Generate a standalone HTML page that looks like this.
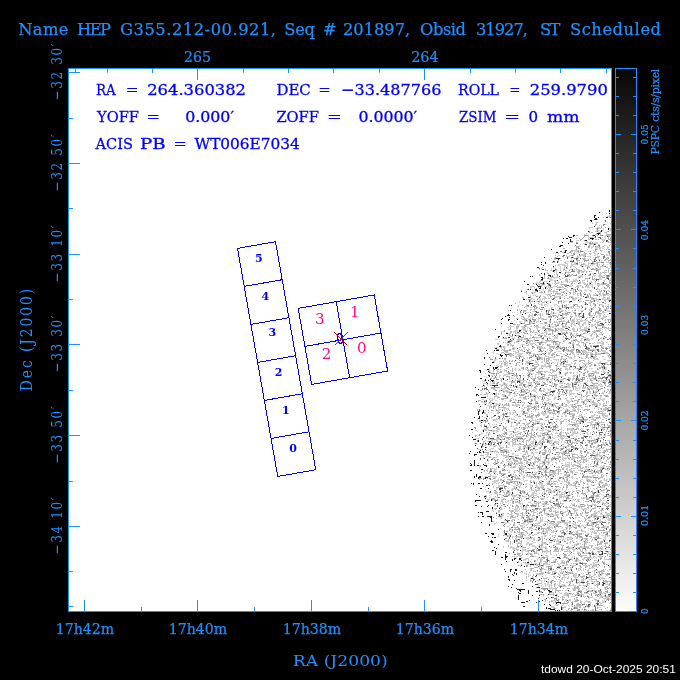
<!DOCTYPE html><html><head><meta charset="utf-8"><title>ObsVis</title><style>html,body{margin:0;padding:0;background:#000;width:680px;height:680px;overflow:hidden}svg{display:block;will-change:transform}text{font-family:'DejaVu Serif', 'Liberation Serif', serif}</style></head><body>
<svg width="680" height="680" viewBox="0 0 680 680" shape-rendering="crispEdges">
<defs>
<linearGradient id="cb" x1="0" y1="0" x2="0" y2="1"><stop offset="0" stop-color="#070707"/><stop offset="1" stop-color="#fdfdfd"/></linearGradient>
<clipPath id="pc"><rect x="69" y="69" width="542" height="542"/></clipPath>
</defs>
<rect width="680" height="680" fill="#000"/>
<rect x="68.5" y="68.5" width="543" height="543" fill="#fff" stroke="#1e90ff" stroke-width="1"/>
<g stroke-width="1" fill="none" shape-rendering="crispEdges"><path d="M602 214h1M609 215h2M607 216h3M603 217h1M609 217h1M607 222h1M592 223h1M610 223h1M605 224h2M610 224h1M601 225h1M601 226h1M589 227h4M598 227h2M589 228h1M596 228h1M598 228h2M603 228h1M609 228h2M603 229h1M610 229h1M596 230h4M602 230h1M609 230h2M595 231h2M598 231h1M604 232h1M606 232h1M586 233h1M596 233h1M606 233h1M584 234h1M586 234h1M595 234h3M588 235h1M595 235h1M603 235h1M605 235h3M609 235h2M588 236h1M593 236h1M604 236h2M610 236h1M588 237h2M594 237h1M602 237h1M605 237h1M610 237h1M588 238h1M595 238h1M601 238h1M605 238h1M588 239h2M593 239h1M601 239h4M576 240h3M602 240h2M586 241h2M590 241h2M603 241h1M570 242h3M577 242h1M586 242h4M594 242h4M600 242h1M602 242h2M609 242h2M583 243h1M585 243h1M593 243h5M580 244h1M584 244h1M589 244h3M598 244h2M610 244h1M579 245h1M590 245h1M604 245h1M579 246h2M584 246h1M596 246h3M602 246h2M607 246h1M591 247h2M595 247h6M602 247h1M607 247h2M591 248h1M595 248h3M600 248h1M602 248h2M607 248h1M581 249h1M587 249h1M597 249h1M599 249h2M604 249h1M564 250h1M573 250h6M585 250h1M593 250h1M601 250h2M610 250h1M571 251h1M574 251h3M588 251h2M594 251h3M601 251h1M604 251h1M562 252h2M571 252h1M574 252h1M576 252h1M578 252h3M594 252h1M555 253h1M558 253h1M577 253h2M586 253h1M591 253h1M594 253h2M597 253h1M600 253h1M581 254h4M595 254h1M597 254h1M606 254h2M558 255h2M569 255h3M573 255h1M577 255h1M580 255h5M594 255h2M606 255h2M609 255h1M566 256h4M572 256h1M578 256h1M580 256h1M583 256h2M587 256h4M554 257h1M563 257h1M565 257h1M576 257h3M584 257h1M590 257h1M593 257h1M597 257h2M605 257h1M571 258h1M578 258h1M582 258h1M585 258h1M598 258h1M607 258h1M549 259h1M555 259h1M564 259h1M585 259h1M588 259h1M593 259h1M598 259h2M607 259h1M558 260h1M560 260h2M570 260h1M591 260h1M601 260h1M558 261h1M565 261h1M567 261h2M586 261h1M601 261h1M608 261h1M553 262h2M564 262h1M571 262h1M574 262h2M581 262h1M588 262h1M596 262h1M600 262h1M606 262h4M565 263h3M571 263h1M574 263h2M584 263h1M588 263h3M595 263h2M603 263h1M609 263h1M558 264h7M567 264h1M571 264h6M584 264h2M588 264h1M591 264h4M607 264h1M558 265h2M562 265h6M571 265h2M585 265h4M592 265h1M596 265h1M603 265h1M610 265h1M560 266h1M564 266h2M567 266h1M571 266h1M573 266h2M583 266h1M585 266h1M587 266h3M597 266h2M600 266h4M610 266h1M560 267h1M567 267h1M575 267h1M588 267h2M595 267h1M600 267h1M606 267h2M610 267h1M541 268h1M551 268h1M560 268h1M567 268h1M572 268h1M576 268h1M583 268h1M590 268h1M595 268h1M597 268h1M599 268h2M608 268h2M551 269h1M560 269h1M571 269h1M576 269h1M578 269h1M583 269h2M600 269h1M608 269h1M545 270h3M550 270h2M555 270h3M560 270h1M565 270h2M573 270h2M576 270h1M584 270h1M604 270h2M610 270h1M552 271h1M554 271h1M556 271h1M561 271h1M566 271h1M577 271h1M581 271h1M584 271h1M591 271h1M596 271h1M604 271h1M547 272h1M554 272h1M556 272h1M566 272h4M577 272h1M579 272h1M581 272h3M604 272h1M608 272h1M547 273h2M556 273h1M560 273h1M562 273h1M568 273h1M579 273h1M592 273h2M599 273h3M604 273h1M609 273h1M548 274h1M554 274h1M556 274h1M567 274h2M571 274h2M593 274h1M599 274h2M605 274h1M610 274h1M540 275h1M570 275h2M580 275h3M593 275h3M598 275h4M603 275h2M610 275h1M549 276h1M568 276h3M578 276h5M585 276h1M594 276h1M598 276h5M551 277h8M564 277h1M578 277h1M580 277h1M582 277h1M589 277h2M599 277h2M608 277h1M543 278h2M549 278h3M554 278h1M562 278h1M576 278h1M578 278h1M587 278h2M596 278h1M599 278h2M610 278h1M549 279h4M565 279h3M573 279h1M575 279h2M585 279h1M587 279h1M594 279h1M599 279h3M605 279h1M610 279h1M540 280h1M550 280h3M554 280h3M565 280h2M573 280h4M582 280h3M587 280h1M594 280h1M598 280h1M603 280h2M539 281h2M544 281h3M554 281h1M565 281h2M570 281h4M575 281h1M577 281h1M580 281h1M582 281h1M590 281h2M598 281h1M604 281h1M609 281h1M536 282h2M539 282h1M546 282h1M557 282h3M561 282h3M569 282h1M572 282h1M576 282h1M582 282h3M589 282h3M595 282h1M602 282h1M535 283h4M552 283h1M555 283h4M561 283h1M580 283h1M583 283h3M595 283h1M599 283h1M601 283h2M538 284h2M541 284h1M555 284h1M560 284h2M584 284h3M590 284h3M595 284h1M597 284h5M604 284h4M539 285h1M541 285h2M547 285h2M557 285h1M561 285h1M569 285h2M572 285h1M577 285h4M587 285h2M590 285h1M592 285h1M597 285h3M609 285h1M530 286h4M541 286h1M544 286h1M546 286h1M548 286h1M553 286h4M559 286h2M562 286h1M569 286h3M576 286h1M585 286h4M591 286h2M530 287h2M546 287h1M548 287h3M562 287h2M567 287h1M575 287h1M577 287h1M583 287h1M585 287h1M587 287h3M592 287h2M607 287h1M530 288h1M534 288h1M543 288h1M549 288h2M573 288h1M601 288h1M604 288h1M543 289h1M548 289h2M561 289h3M571 289h4M597 289h3M543 290h1M550 290h1M553 290h2M565 290h1M571 290h1M573 290h1M584 290h3M589 290h3M599 290h1M607 290h2M535 291h2M548 291h5M554 291h2M561 291h1M567 291h2M573 291h1M590 291h2M598 291h4M608 291h1M524 292h3M533 292h3M539 292h2M548 292h1M556 292h2M561 292h2M565 292h1M573 292h3M598 292h1M600 292h1M603 292h1M610 292h1M526 293h1M534 293h1M543 293h1M550 293h1M560 293h1M564 293h1M573 293h1M575 293h1M577 293h3M583 293h1M585 293h1M589 293h1M600 293h1M602 293h2M534 294h1M545 294h3M550 294h1M557 294h4M569 294h1M577 294h1M589 294h2M593 294h1M596 294h5M602 294h1M607 294h4M530 295h1M540 295h1M547 295h1M550 295h1M561 295h1M565 295h1M577 295h2M581 295h1M588 295h1M593 295h1M600 295h2M605 295h1M607 295h2M610 295h1M530 296h1M543 296h2M548 296h1M554 296h4M559 296h1M564 296h1M569 296h4M581 296h1M603 296h1M609 296h1M544 297h1M550 297h1M554 297h3M562 297h1M570 297h1M573 297h1M575 297h2M578 297h1M588 297h1M591 297h2M603 297h1M605 297h1M607 297h3M531 298h2M537 298h3M542 298h5M549 298h1M551 298h1M574 298h2M594 298h3M599 298h1M602 298h2M608 298h2M531 299h1M533 299h2M539 299h2M542 299h1M544 299h1M572 299h4M578 299h3M591 299h4M596 299h3M602 299h9M532 300h1M540 300h2M550 300h1M556 300h1M563 300h1M573 300h2M588 300h2M593 300h1M595 300h2M598 300h1M608 300h1M519 301h1M536 301h2M544 301h4M550 301h1M563 301h4M579 301h3M590 301h1M593 301h1M597 301h2M605 301h1M519 302h1M528 302h1M539 302h1M544 302h1M561 302h1M570 302h1M579 302h1M584 302h1M589 302h2M599 302h1M534 303h1M541 303h1M547 303h1M561 303h1M589 303h2M604 303h1M526 304h1M539 304h4M544 304h3M554 304h3M568 304h1M577 304h1M584 304h1M590 304h1M593 304h2M600 304h3M608 304h1M518 305h1M526 305h1M541 305h2M544 305h1M554 305h1M557 305h1M561 305h1M565 305h2M590 305h1M594 305h1M602 305h2M608 305h1M610 305h1M517 306h2M525 306h3M545 306h1M554 306h1M558 306h2M571 306h2M577 306h1M579 306h1M594 306h2M605 306h1M526 307h1M530 307h2M539 307h1M551 307h2M559 307h1M563 307h3M569 307h2M579 307h1M585 307h1M595 307h1M598 307h2M511 308h1M526 308h1M534 308h2M539 308h1M544 308h1M555 308h1M561 308h1M565 308h1M571 308h2M574 308h1M577 308h1M581 308h1M586 308h1M590 308h1M607 308h2M519 309h1M527 309h1M533 309h1M535 309h1M544 309h1M549 309h1M558 309h4M575 309h1M584 309h1M592 309h2M604 309h1M508 310h1M534 310h1M547 310h1M557 310h3M561 310h3M565 310h1M568 310h1M572 310h1M574 310h1M578 310h1M582 310h2M589 310h3M598 310h1M604 310h1M606 310h3M508 311h1M524 311h2M532 311h3M559 311h1M565 311h2M572 311h1M602 311h1M607 311h4M512 312h1M514 312h1M521 312h1M526 312h3M551 312h1M559 312h1M565 312h1M570 312h1M581 312h1M599 312h1M602 312h4M520 313h1M524 313h1M532 313h1M540 313h1M550 313h3M554 313h2M563 313h2M581 313h1M590 313h1M601 313h1M517 314h1M529 314h1M532 314h1M538 314h2M542 314h1M550 314h1M558 314h2M564 314h4M571 314h1M590 314h1M599 314h2M604 314h1M607 314h1M528 315h5M537 315h1M542 315h1M550 315h1M565 315h1M578 315h2M590 315h1M598 315h3M603 315h1M514 316h1M521 316h2M528 316h1M532 316h1M540 316h1M572 316h1M578 316h2M584 316h1M590 316h2M599 316h2M603 316h3M522 317h1M524 317h1M528 317h1M530 317h1M532 317h2M538 317h1M548 317h3M555 317h1M561 317h1M566 317h1M575 317h1M579 317h1M584 317h1M587 317h1M589 317h2M592 317h1M594 317h1M596 317h1M599 317h1M602 317h4M516 318h2M523 318h5M530 318h1M536 318h1M538 318h6M550 318h1M560 318h2M574 318h1M581 318h1M600 318h1M603 318h1M610 318h1M526 319h1M530 319h1M538 319h1M541 319h2M558 319h4M572 319h3M576 319h3M581 319h1M599 319h1M607 319h1M514 320h1M525 320h1M527 320h1M533 320h1M538 320h1M542 320h1M549 320h1M561 320h1M563 320h2M570 320h2M574 320h1M577 320h1M580 320h8M592 320h1M597 320h1M604 320h2M511 321h1M519 321h3M524 321h4M536 321h3M549 321h1M554 321h1M556 321h1M558 321h1M563 321h2M567 321h1M571 321h4M576 321h7M585 321h1M592 321h1M595 321h1M516 322h1M520 322h1M524 322h1M530 322h3M536 322h2M549 322h1M554 322h4M572 322h3M577 322h2M584 322h2M588 322h1M596 322h1M606 322h1M608 322h1M531 323h2M540 323h3M544 323h1M549 323h1M552 323h1M557 323h3M565 323h1M574 323h1M583 323h3M588 323h1M595 323h1M604 323h1M518 324h2M525 324h2M538 324h1M548 324h1M552 324h1M554 324h1M557 324h1M565 324h1M573 324h2M579 324h1M583 324h1M585 324h1M588 324h1M591 324h2M594 324h2M597 324h1M517 325h3M526 325h1M547 325h1M563 325h1M570 325h2M574 325h2M579 325h1M583 325h1M591 325h3M597 325h1M501 326h1M509 326h5M521 326h4M526 326h1M530 326h2M536 326h3M543 326h2M547 326h2M550 326h4M564 326h3M568 326h1M579 326h3M586 326h1M591 326h2M597 326h1M603 326h2M507 327h2M517 327h2M522 327h2M527 327h2M534 327h1M536 327h5M542 327h1M550 327h1M552 327h2M562 327h3M566 327h1M573 327h1M580 327h1M584 327h3M588 327h1M604 327h1M606 327h1M522 328h4M527 328h1M536 328h2M543 328h1M545 328h1M550 328h1M554 328h1M557 328h6M572 328h3M577 328h1M579 328h2M584 328h6M598 328h4M604 328h1M606 328h5M521 329h5M537 329h1M558 329h2M561 329h3M569 329h1M573 329h2M580 329h4M585 329h2M599 329h2M602 329h1M608 329h1M516 330h2M521 330h1M523 330h5M529 330h1M537 330h1M545 330h2M560 330h7M569 330h2M573 330h2M581 330h3M587 330h3M594 330h1M599 330h1M605 330h1M610 330h1M501 331h1M503 331h1M513 331h3M517 331h1M531 331h1M545 331h2M558 331h1M561 331h1M566 331h1M573 331h4M579 331h1M582 331h1M592 331h2M595 331h1M602 331h1M501 332h1M506 332h1M510 332h1M513 332h1M515 332h1M532 332h4M542 332h1M544 332h3M557 332h1M561 332h4M567 332h1M569 332h3M585 332h1M595 332h1M510 333h1M515 333h5M525 333h2M541 333h3M547 333h1M570 333h1M574 333h1M576 333h2M585 333h1M589 333h1M595 333h2M601 333h1M603 333h1M501 334h1M530 334h1M544 334h1M552 334h2M562 334h1M573 334h1M576 334h2M581 334h2M592 334h1M599 334h3M507 335h1M510 335h1M514 335h1M516 335h1M530 335h2M544 335h2M556 335h2M573 335h1M575 335h2M581 335h1M596 335h1M602 335h1M609 335h1M510 336h3M516 336h1M525 336h1M544 336h3M549 336h1M552 336h2M555 336h1M557 336h1M573 336h2M576 336h1M581 336h1M591 336h1M502 337h1M506 337h1M512 337h1M514 337h1M530 337h1M534 337h8M549 337h1M554 337h4M565 337h2M573 337h1M583 337h3M593 337h1M601 337h1M603 337h1M503 338h1M512 338h3M518 338h2M521 338h2M530 338h1M534 338h1M536 338h1M541 338h1M554 338h4M568 338h1M570 338h1M581 338h2M585 338h2M588 338h1M591 338h2M601 338h1M604 338h2M495 339h3M512 339h1M519 339h2M522 339h1M524 339h3M528 339h1M534 339h1M542 339h2M551 339h1M553 339h1M573 339h1M581 339h1M586 339h4M592 339h1M603 339h2M505 340h1M509 340h2M512 340h1M517 340h3M526 340h1M529 340h4M551 340h2M554 340h1M563 340h3M571 340h1M580 340h2M585 340h3M589 340h1M601 340h1M499 341h1M507 341h1M519 341h1M530 341h1M532 341h1M546 341h3M551 341h2M558 341h1M564 341h1M571 341h2M577 341h3M581 341h1M601 341h2M505 342h1M514 342h1M525 342h4M535 342h1M543 342h4M551 342h2M554 342h1M556 342h1M578 342h2M594 342h1M597 342h4M602 342h1M606 342h2M506 343h1M509 343h2M514 343h1M518 343h1M527 343h1M529 343h4M534 343h1M541 343h1M545 343h1M555 343h3M562 343h1M568 343h2M572 343h2M578 343h1M583 343h3M592 343h2M597 343h1M599 343h4M497 344h2M510 344h2M521 344h4M530 344h3M542 344h2M548 344h3M556 344h4M578 344h1M583 344h1M602 344h2M507 345h2M510 345h2M520 345h1M526 345h1M528 345h1M531 345h1M542 345h1M556 345h4M577 345h2M583 345h1M590 345h2M593 345h3M602 345h1M501 346h4M537 346h5M550 346h1M560 346h1M569 346h1M579 346h2M603 346h1M608 346h3M494 347h1M496 347h2M504 347h2M513 347h2M523 347h3M538 347h2M541 347h2M549 347h6M557 347h1M560 347h2M568 347h1M572 347h1M580 347h1M596 347h1M600 347h1M603 347h1M605 347h1M610 347h1M501 348h1M514 348h1M523 348h2M528 348h1M538 348h2M541 348h5M549 348h2M557 348h3M561 348h1M565 348h1M573 348h2M593 348h1M595 348h1M502 349h2M512 349h3M519 349h1M524 349h1M528 349h2M547 349h1M550 349h1M557 349h1M560 349h2M567 349h2M571 349h1M574 349h1M585 349h2M589 349h8M610 349h1M501 350h1M503 350h1M505 350h1M517 350h2M520 350h3M528 350h1M533 350h1M541 350h1M543 350h1M547 350h1M550 350h2M564 350h2M567 350h1M569 350h1M577 350h1M582 350h4M589 350h1M594 350h2M602 350h4M493 351h1M505 351h1M514 351h2M522 351h2M527 351h2M531 351h1M540 351h1M550 351h1M556 351h1M558 351h3M567 351h3M580 351h1M584 351h3M595 351h1M599 351h1M602 351h4M492 352h2M501 352h1M505 352h1M515 352h3M546 352h1M548 352h2M565 352h1M573 352h1M582 352h10M603 352h5M493 353h1M496 353h2M501 353h1M515 353h2M518 353h5M526 353h1M533 353h2M548 353h2M553 353h2M557 353h1M560 353h2M566 353h2M573 353h1M585 353h3M590 353h2M595 353h6M605 353h2M498 354h1M510 354h1M517 354h5M529 354h1M533 354h4M538 354h1M543 354h1M548 354h2M551 354h1M553 354h1M563 354h2M573 354h2M581 354h2M590 354h1M593 354h2M597 354h4M505 355h1M510 355h3M518 355h1M529 355h1M534 355h1M559 355h1M574 355h1M590 355h1M592 355h1M607 355h1M610 355h1M493 356h1M511 356h1M515 356h2M518 356h1M521 356h3M530 356h1M533 356h1M539 356h1M546 356h3M566 356h3M574 356h2M578 356h1M585 356h1M587 356h1M594 356h3M602 356h2M513 357h1M515 357h1M521 357h1M523 357h1M527 357h1M536 357h1M538 357h1M541 357h2M544 357h1M548 357h7M568 357h4M574 357h1M581 357h1M587 357h1M591 357h2M595 357h1M609 357h1M490 358h1M523 358h1M527 358h1M536 358h1M538 358h1M541 358h2M549 358h1M561 358h2M569 358h3M581 358h2M591 358h1M594 358h4M609 358h1M494 359h3M504 359h2M518 359h1M523 359h1M531 359h1M541 359h1M549 359h1M553 359h6M594 359h5M603 359h3M494 360h2M503 360h1M505 360h1M523 360h1M528 360h1M531 360h1M535 360h1M537 360h1M550 360h2M558 360h1M565 360h1M567 360h1M579 360h1M607 360h2M492 361h3M499 361h2M505 361h2M525 361h3M535 361h2M538 361h1M542 361h1M547 361h2M558 361h1M566 361h2M573 361h2M588 361h2M600 361h1M608 361h1M494 362h1M520 362h1M526 362h1M535 362h3M541 362h2M545 362h3M551 362h3M557 362h1M565 362h3M571 362h1M575 362h1M582 362h1M590 362h1M592 362h1M599 362h2M605 362h3M492 363h1M499 363h1M501 363h2M506 363h2M525 363h1M527 363h1M537 363h1M545 363h2M554 363h1M571 363h1M584 363h1M586 363h3M597 363h4M605 363h2M507 364h1M510 364h1M525 364h1M534 364h4M544 364h2M548 364h2M560 364h1M562 364h1M564 364h7M579 364h1M584 364h1M586 364h1M588 364h1M598 364h1M605 364h2M608 364h2M496 365h2M500 365h2M504 365h4M527 365h1M534 365h1M538 365h1M541 365h5M548 365h2M551 365h1M560 365h1M563 365h1M566 365h1M568 365h3M579 365h1M583 365h1M589 365h3M596 365h1M601 365h1M497 366h1M500 366h3M506 366h1M532 366h6M541 366h6M556 366h4M565 366h3M579 366h1M582 366h6M589 366h2M601 366h1M500 367h2M521 367h2M534 367h1M536 367h1M541 367h1M546 367h1M550 367h1M556 367h1M565 367h1M569 367h3M579 367h1M582 367h3M601 367h1M603 367h1M605 367h2M489 368h1M497 368h1M518 368h1M521 368h2M525 368h1M530 368h1M539 368h3M556 368h2M565 368h3M574 368h3M581 368h2M589 368h1M591 368h2M602 368h2M605 368h2M489 369h1M493 369h1M497 369h1M500 369h1M504 369h1M508 369h1M514 369h2M525 369h2M528 369h1M530 369h1M532 369h1M539 369h1M557 369h1M565 369h6M577 369h1M586 369h1M602 369h5M486 370h1M488 370h2M496 370h2M504 370h1M515 370h1M518 370h3M529 370h2M535 370h1M538 370h1M552 370h1M561 370h1M567 370h1M587 370h1M603 370h1M609 370h1M489 371h2M497 371h2M504 371h1M530 371h3M544 371h4M552 371h4M580 371h1M592 371h3M596 371h1M601 371h1M603 371h2M490 372h1M497 372h1M507 372h1M528 372h1M530 372h1M544 372h1M548 372h2M552 372h2M569 372h3M573 372h1M577 372h1M584 372h1M594 372h1M596 372h2M603 372h3M610 372h1M490 373h1M497 373h1M522 373h1M527 373h1M530 373h2M533 373h1M538 373h3M542 373h1M551 373h1M567 373h1M570 373h2M573 373h1M590 373h1M594 373h1M596 373h3M601 373h1M488 374h1M493 374h1M504 374h6M513 374h2M532 374h1M535 374h2M538 374h1M549 374h1M555 374h2M559 374h1M564 374h1M583 374h2M591 374h1M491 375h2M499 375h2M503 375h3M511 375h1M513 375h2M529 375h1M535 375h1M541 375h1M548 375h3M574 375h2M591 375h2M595 375h1M601 375h1M484 376h1M499 376h1M503 376h1M514 376h1M517 376h1M531 376h2M535 376h1M538 376h2M556 376h1M559 376h4M573 376h2M590 376h3M603 376h1M491 377h1M494 377h1M496 377h1M499 377h1M511 377h2M528 377h1M530 377h1M535 377h1M538 377h1M540 377h1M552 377h1M554 377h4M573 377h1M576 377h1M581 377h1M592 377h2M596 377h2M600 377h1M496 378h1M500 378h2M511 378h2M514 378h1M519 378h2M528 378h1M532 378h2M540 378h2M544 378h5M555 378h1M565 378h1M568 378h3M572 378h3M579 378h2M587 378h1M589 378h5M596 378h1M607 378h1M518 379h3M532 379h1M538 379h1M542 379h3M546 379h1M548 379h1M551 379h2M560 379h4M565 379h2M570 379h1M572 379h2M575 379h1M579 379h1M591 379h1M593 379h1M601 379h1M482 380h1M505 380h2M518 380h1M520 380h6M546 380h3M551 380h1M554 380h1M559 380h4M572 380h1M575 380h1M587 380h1M597 380h3M601 380h1M604 380h4M493 381h2M507 381h1M509 381h1M520 381h1M526 381h1M533 381h1M535 381h3M539 381h1M542 381h1M547 381h1M550 381h2M575 381h1M577 381h5M587 381h1M591 381h1M600 381h7M482 382h1M490 382h1M503 382h2M513 382h2M520 382h2M523 382h1M526 382h1M528 382h4M533 382h1M536 382h3M547 382h1M549 382h1M560 382h3M572 382h1M574 382h1M578 382h2M584 382h2M602 382h1M483 383h3M490 383h1M503 383h1M505 383h1M507 383h1M515 383h1M520 383h2M528 383h4M536 383h3M552 383h1M555 383h1M559 383h4M573 383h3M580 383h1M583 383h1M600 383h1M483 384h1M486 384h2M490 384h1M496 384h2M499 384h2M502 384h2M505 384h1M510 384h1M515 384h1M519 384h2M528 384h1M530 384h2M542 384h2M552 384h1M567 384h4M573 384h1M583 384h1M594 384h1M598 384h4M604 384h2M487 385h1M490 385h2M505 385h1M507 385h1M517 385h1M520 385h1M531 385h1M554 385h1M568 385h2M573 385h1M579 385h1M581 385h1M588 385h1M593 385h4M598 385h2M601 385h1M608 385h2M495 386h1M504 386h1M514 386h1M517 386h1M522 386h1M525 386h4M531 386h1M537 386h1M545 386h2M552 386h1M555 386h2M567 386h3M591 386h4M596 386h2M601 386h2M608 386h2M504 387h2M510 387h2M514 387h1M517 387h4M522 387h1M525 387h2M528 387h1M555 387h1M566 387h5M572 387h1M575 387h2M578 387h3M582 387h3M589 387h3M593 387h4M493 388h1M503 388h3M508 388h1M520 388h2M523 388h1M529 388h1M535 388h2M543 388h2M550 388h1M555 388h1M563 388h1M575 388h2M579 388h1M582 388h3M589 388h8M600 388h1M604 388h1M493 389h1M495 389h1M502 389h3M508 389h1M511 389h1M525 389h2M533 389h2M536 389h1M544 389h1M547 389h1M549 389h2M565 389h1M575 389h1M579 389h1M591 389h2M596 389h2M608 389h1M499 390h2M502 390h1M505 390h1M520 390h1M526 390h3M532 390h4M540 390h3M548 390h2M555 390h1M565 390h1M569 390h1M576 390h3M589 390h1M596 390h1M608 390h1M499 391h1M504 391h3M508 391h2M515 391h2M519 391h1M531 391h1M534 391h2M540 391h1M544 391h1M558 391h1M563 391h1M569 391h3M581 391h1M586 391h2M589 391h2M596 391h3M607 391h1M609 391h2M481 392h1M496 392h1M503 392h2M508 392h1M522 392h5M545 392h5M566 392h2M569 392h1M571 392h1M579 392h2M589 392h2M594 392h1M602 392h2M609 392h2M487 393h2M495 393h2M498 393h1M500 393h1M506 393h1M510 393h1M515 393h1M545 393h1M549 393h1M553 393h1M566 393h1M569 393h6M587 393h1M590 393h1M592 393h2M601 393h3M608 393h3M487 394h1M495 394h2M498 394h1M503 394h2M509 394h2M515 394h1M531 394h2M537 394h1M541 394h1M549 394h1M553 394h1M558 394h2M561 394h3M565 394h2M569 394h3M573 394h1M580 394h1M603 394h1M487 395h1M495 395h2M502 395h3M508 395h2M514 395h1M519 395h2M528 395h1M530 395h2M534 395h1M536 395h1M542 395h3M547 395h4M558 395h1M560 395h1M563 395h1M569 395h1M585 395h1M587 395h3M594 395h1M487 396h1M495 396h4M503 396h2M506 396h2M514 396h1M520 396h1M526 396h3M537 396h1M543 396h1M548 396h1M555 396h1M572 396h1M581 396h1M584 396h1M595 396h2M600 396h2M497 397h1M506 397h1M512 397h1M519 397h3M530 397h1M537 397h2M554 397h2M558 397h1M567 397h1M575 397h1M579 397h3M586 397h1M600 397h1M488 398h1M490 398h1M492 398h1M494 398h1M497 398h1M525 398h2M534 398h2M538 398h1M547 398h2M554 398h2M558 398h1M566 398h1M570 398h3M581 398h1M586 398h1M593 398h1M596 398h1M598 398h3M603 398h2M482 399h2M492 399h2M499 399h1M524 399h3M532 399h1M534 399h2M548 399h3M554 399h1M566 399h1M571 399h1M581 399h2M585 399h2M590 399h2M596 399h1M600 399h5M484 400h2M490 400h3M495 400h2M505 400h1M509 400h1M515 400h2M534 400h2M546 400h3M566 400h3M571 400h2M576 400h3M585 400h2M590 400h1M597 400h1M602 400h2M485 401h1M502 401h1M509 401h1M514 401h1M535 401h3M551 401h1M567 401h5M573 401h1M581 401h1M584 401h1M587 401h1M590 401h2M597 401h1M603 401h1M608 401h1M483 402h3M494 402h1M515 402h1M519 402h1M522 402h2M536 402h1M551 402h1M567 402h3M581 402h1M584 402h1M590 402h1M598 402h1M608 402h1M484 403h1M488 403h2M494 403h4M499 403h2M524 403h1M535 403h1M538 403h1M544 403h1M546 403h2M553 403h3M568 403h1M575 403h2M584 403h1M586 403h1M591 403h1M593 403h5M600 403h1M603 403h2M606 403h1M484 404h1M490 404h2M493 404h1M496 404h5M507 404h1M512 404h2M515 404h5M530 404h2M535 404h1M540 404h1M553 404h2M565 404h1M570 404h2M573 404h1M575 404h1M586 404h1M595 404h3M599 404h2M603 404h1M610 404h1M487 405h4M493 405h3M498 405h1M502 405h6M509 405h1M514 405h6M522 405h1M527 405h4M536 405h1M547 405h1M550 405h2M555 405h1M559 405h3M565 405h3M571 405h1M575 405h1M581 405h1M594 405h2M597 405h1M599 405h1M604 405h1M609 405h1M489 406h2M495 406h1M498 406h1M503 406h1M509 406h1M517 406h1M522 406h1M529 406h3M536 406h2M541 406h1M549 406h1M551 406h3M556 406h2M560 406h1M563 406h4M586 406h1M602 406h3M479 407h1M486 407h1M495 407h1M498 407h1M500 407h2M524 407h3M528 407h1M531 407h1M535 407h2M549 407h1M553 407h1M572 407h1M578 407h1M581 407h2M598 407h2M606 407h1M495 408h1M498 408h1M503 408h6M521 408h2M524 408h1M527 408h1M529 408h3M536 408h1M546 408h1M557 408h1M566 408h1M573 408h2M577 408h2M594 408h1M598 408h1M603 408h4M485 409h1M496 409h1M498 409h2M502 409h1M504 409h1M506 409h1M536 409h2M550 409h1M566 409h1M572 409h4M577 409h4M582 409h1M603 409h2M480 410h1M485 410h1M493 410h1M497 410h3M504 410h1M507 410h1M513 410h1M521 410h2M535 410h1M545 410h1M559 410h3M565 410h2M568 410h2M572 410h2M578 410h1M583 410h1M588 410h1M603 410h2M497 411h2M505 411h1M515 411h1M521 411h2M533 411h1M535 411h1M549 411h1M556 411h1M568 411h2M571 411h6M578 411h1M590 411h3M596 411h1M598 411h6M608 411h2M485 412h1M491 412h1M497 412h2M509 412h2M512 412h3M525 412h3M538 412h1M541 412h3M554 412h1M559 412h1M566 412h1M577 412h2M582 412h1M592 412h1M595 412h1M597 412h2M602 412h1M609 412h1M484 413h2M493 413h1M497 413h1M507 413h1M509 413h2M513 413h1M526 413h2M531 413h2M538 413h2M541 413h6M549 413h1M555 413h1M558 413h2M562 413h4M570 413h5M577 413h1M586 413h1M598 413h3M603 413h3M486 414h2M510 414h1M516 414h1M527 414h1M542 414h4M553 414h1M555 414h1M558 414h1M564 414h1M570 414h3M574 414h1M579 414h1M584 414h1M603 414h2M486 415h2M501 415h1M515 415h3M519 415h1M543 415h2M547 415h2M553 415h1M561 415h1M565 415h2M579 415h3M591 415h4M596 415h1M599 415h1M603 415h5M609 415h1M486 416h1M508 416h2M514 416h1M525 416h1M535 416h1M538 416h1M548 416h1M561 416h2M565 416h2M571 416h1M576 416h1M578 416h2M584 416h1M591 416h3M603 416h1M605 416h3M484 417h1M491 417h2M506 417h1M526 417h5M532 417h2M545 417h1M548 417h1M574 417h1M579 417h2M583 417h1M591 417h2M594 417h2M600 417h1M603 417h1M491 418h1M504 418h1M513 418h1M519 418h1M523 418h1M531 418h2M539 418h2M553 418h1M557 418h1M561 418h1M573 418h1M575 418h2M587 418h1M592 418h2M598 418h1M600 418h1M605 418h1M608 418h3M477 419h1M483 419h1M486 419h2M493 419h5M499 419h1M504 419h1M507 419h1M511 419h4M523 419h2M532 419h1M535 419h1M537 419h3M555 419h4M565 419h2M592 419h3M602 419h2M483 420h1M494 420h2M500 420h1M515 420h1M519 420h3M525 420h1M531 420h3M535 420h1M545 420h2M559 420h1M563 420h1M574 420h1M576 420h3M583 420h2M586 420h1M589 420h1M593 420h1M487 421h1M500 421h1M509 421h1M514 421h1M520 421h1M535 421h4M553 421h1M571 421h1M578 421h2M591 421h2M598 421h1M601 421h1M609 421h1M482 422h1M503 422h1M511 422h2M526 422h1M529 422h2M535 422h1M537 422h3M560 422h1M571 422h4M576 422h1M579 422h1M582 422h1M587 422h6M599 422h4M480 423h1M489 423h1M499 423h1M511 423h1M516 423h2M527 423h1M534 423h1M539 423h4M551 423h2M560 423h1M569 423h1M574 423h6M582 423h1M590 423h2M595 423h2M599 423h1M481 424h1M489 424h1M492 424h1M494 424h1M511 424h1M516 424h2M527 424h2M534 424h1M541 424h1M552 424h1M560 424h1M568 424h2M576 424h2M584 424h1M590 424h3M596 424h1M603 424h1M607 424h1M480 425h2M485 425h2M489 425h1M502 425h1M511 425h1M513 425h1M516 425h2M520 425h2M527 425h2M531 425h2M540 425h2M550 425h1M556 425h2M567 425h1M573 425h1M575 425h1M577 425h2M590 425h3M595 425h2M607 425h2M610 425h1M481 426h1M490 426h1M506 426h1M510 426h1M513 426h1M525 426h1M541 426h2M550 426h1M552 426h1M557 426h2M575 426h4M592 426h1M600 426h1M602 426h1M604 426h1M610 426h1M490 427h1M503 427h4M516 427h1M521 427h2M525 427h5M532 427h2M537 427h2M542 427h1M550 427h1M557 427h1M561 427h1M577 427h1M592 427h2M598 427h1M601 427h2M605 427h1M610 427h1M484 428h1M497 428h3M514 428h4M521 428h1M527 428h1M532 428h1M537 428h1M542 428h2M550 428h2M561 428h1M568 428h5M581 428h2M594 428h1M597 428h1M601 428h4M610 428h1M483 429h2M488 429h1M497 429h3M505 429h1M514 429h2M522 429h1M531 429h1M542 429h2M545 429h2M555 429h1M559 429h3M568 429h7M578 429h1M586 429h1M594 429h1M596 429h1M602 429h2M610 429h1M475 430h2M482 430h1M485 430h2M488 430h1M492 430h6M515 430h1M531 430h3M539 430h5M549 430h2M555 430h3M570 430h3M574 430h1M598 430h1M603 430h1M606 430h1M477 431h1M492 431h3M496 431h3M504 431h1M509 431h3M517 431h2M525 431h1M527 431h1M531 431h1M542 431h1M552 431h1M561 431h1M570 431h1M572 431h1M574 431h2M577 431h1M588 431h1M596 431h1M481 432h1M486 432h2M493 432h1M496 432h1M504 432h1M516 432h1M520 432h1M540 432h1M544 432h5M556 432h1M561 432h1M563 432h1M567 432h1M572 432h4M586 432h2M590 432h1M592 432h1M594 432h1M605 432h1M481 433h2M486 433h1M488 433h2M502 433h3M540 433h2M545 433h1M551 433h1M555 433h3M560 433h2M565 433h3M572 433h6M582 433h2M587 433h1M590 433h1M605 433h1M607 433h1M610 433h1M480 434h1M489 434h1M501 434h2M510 434h2M513 434h1M515 434h2M522 434h1M528 434h1M532 434h1M542 434h1M549 434h4M561 434h1M571 434h3M580 434h1M587 434h2M593 434h1M605 434h1M485 435h2M498 435h1M502 435h1M513 435h1M515 435h1M528 435h2M531 435h4M537 435h3M548 435h2M552 435h1M557 435h1M561 435h2M564 435h1M566 435h2M569 435h4M583 435h2M596 435h1M599 435h3M604 435h2M607 435h1M484 436h1M491 436h1M497 436h4M511 436h1M516 436h7M535 436h1M538 436h2M543 436h1M547 436h2M559 436h8M583 436h1M591 436h1M599 436h1M604 436h2M610 436h1M488 437h2M510 437h2M516 437h6M535 437h1M538 437h1M557 437h1M560 437h3M564 437h1M586 437h1M610 437h1M475 438h4M482 438h1M488 438h2M496 438h2M502 438h1M510 438h1M517 438h1M524 438h2M533 438h1M544 438h1M549 438h1M553 438h2M560 438h2M565 438h3M575 438h2M579 438h1M586 438h1M594 438h1M597 438h1M600 438h3M488 439h5M496 439h4M501 439h2M520 439h4M533 439h1M541 439h1M561 439h2M569 439h2M574 439h1M594 439h2M598 439h1M485 440h1M491 440h2M497 440h1M506 440h2M512 440h4M519 440h1M528 440h2M533 440h1M540 440h2M549 440h4M559 440h1M562 440h1M574 440h1M582 440h1M590 440h1M594 440h2M598 440h1M603 440h1M607 440h2M483 441h1M487 441h1M492 441h1M504 441h4M510 441h3M517 441h1M519 441h2M526 441h1M528 441h1M531 441h3M543 441h2M550 441h2M554 441h5M561 441h1M564 441h1M576 441h4M588 441h1M590 441h1M593 441h1M492 442h1M505 442h1M507 442h3M512 442h4M526 442h1M530 442h1M532 442h2M538 442h5M548 442h1M551 442h1M553 442h1M556 442h1M558 442h1M561 442h1M564 442h1M569 442h1M573 442h3M588 442h1M592 442h2M602 442h2M610 442h1M474 443h1M489 443h2M507 443h3M512 443h2M526 443h1M531 443h3M537 443h5M549 443h4M556 443h3M566 443h2M574 443h1M580 443h2M589 443h2M603 443h1M483 444h1M485 444h3M490 444h1M508 444h2M512 444h8M521 444h3M530 444h1M532 444h1M537 444h2M541 444h1M552 444h1M562 444h1M570 444h1M580 444h1M481 445h1M485 445h1M493 445h4M499 445h2M512 445h1M518 445h1M527 445h1M530 445h1M533 445h5M540 445h3M552 445h3M567 445h1M569 445h2M572 445h1M578 445h1M580 445h1M597 445h1M608 445h1M489 446h1M493 446h1M495 446h1M499 446h1M512 446h1M519 446h2M525 446h1M527 446h1M531 446h2M534 446h3M541 446h1M553 446h1M556 446h1M559 446h3M563 446h5M580 446h1M591 446h1M594 446h1M597 446h1M609 446h2M501 447h2M507 447h2M518 447h3M523 447h5M533 447h2M539 447h3M550 447h1M555 447h2M563 447h1M566 447h1M574 447h2M586 447h1M590 447h1M596 447h2M603 447h2M491 448h3M498 448h2M501 448h2M513 448h1M520 448h1M526 448h2M529 448h1M547 448h2M555 448h1M560 448h1M566 448h1M574 448h1M578 448h1M580 448h2M583 448h1M596 448h1M598 448h6M606 448h1M478 449h3M498 449h1M503 449h1M505 449h2M520 449h2M523 449h2M532 449h6M543 449h3M550 449h1M552 449h1M554 449h2M560 449h1M566 449h1M569 449h1M574 449h1M583 449h1M585 449h1M588 449h4M595 449h5M607 449h1M490 450h1M495 450h1M503 450h1M506 450h3M510 450h2M514 450h1M516 450h1M526 450h1M532 450h1M535 450h1M542 450h1M544 450h1M546 450h1M550 450h1M553 450h1M555 450h1M561 450h1M576 450h1M581 450h1M599 450h2M603 450h1M482 451h1M493 451h5M500 451h2M503 451h1M507 451h2M517 451h1M527 451h1M546 451h1M550 451h1M573 451h1M581 451h1M587 451h1M603 451h2M494 452h1M496 452h2M500 452h1M504 452h1M507 452h3M525 452h1M527 452h1M531 452h1M535 452h3M540 452h3M549 452h2M559 452h4M581 452h1M592 452h2M595 452h1M597 452h1M602 452h1M609 452h2M481 453h1M487 453h2M490 453h1M503 453h1M512 453h2M520 453h1M525 453h1M527 453h1M531 453h3M540 453h1M542 453h2M549 453h1M563 453h1M569 453h1M571 453h2M574 453h1M587 453h1M590 453h1M592 453h3M599 453h1M604 453h1M485 454h3M496 454h2M499 454h1M503 454h1M512 454h2M523 454h1M527 454h1M533 454h1M549 454h1M554 454h1M557 454h3M563 454h1M575 454h3M592 454h1M598 454h2M606 454h1M487 455h1M496 455h1M502 455h2M506 455h3M515 455h4M522 455h2M529 455h2M533 455h1M538 455h1M540 455h1M549 455h1M558 455h1M562 455h1M577 455h1M599 455h3M486 456h5M497 456h1M503 456h1M506 456h3M515 456h1M526 456h2M534 456h1M540 456h1M554 456h1M557 456h2M562 456h1M569 456h1M573 456h2M582 456h3M588 456h1M591 456h1M594 456h4M599 456h4M604 456h3M610 456h1M483 457h1M488 457h1M495 457h2M507 457h2M512 457h2M517 457h2M526 457h1M531 457h2M534 457h1M538 457h1M540 457h1M543 457h1M545 457h1M558 457h1M562 457h2M565 457h4M572 457h3M583 457h2M590 457h2M593 457h4M602 457h3M609 457h2M483 458h1M492 458h2M503 458h1M508 458h1M523 458h4M530 458h1M540 458h1M547 458h3M552 458h1M558 458h1M562 458h5M571 458h4M583 458h1M588 458h2M597 458h2M600 458h1M603 458h2M607 458h2M524 459h1M526 459h1M530 459h1M534 459h2M540 459h1M544 459h1M548 459h1M554 459h1M558 459h1M560 459h1M562 459h2M565 459h1M572 459h1M581 459h2M586 459h1M591 459h2M597 459h2M600 459h1M603 459h1M607 459h2M488 460h1M502 460h1M506 460h1M509 460h1M523 460h1M526 460h1M528 460h2M535 460h1M540 460h1M548 460h1M551 460h2M556 460h1M559 460h1M563 460h2M573 460h1M584 460h5M595 460h1M597 460h2M600 460h1M488 461h1M507 461h5M514 461h1M520 461h2M526 461h1M534 461h4M545 461h5M551 461h1M577 461h3M581 461h1M585 461h1M592 461h1M595 461h4M600 461h1M602 461h1M606 461h1M485 462h1M494 462h2M506 462h1M509 462h1M511 462h1M514 462h2M518 462h5M524 462h1M526 462h4M532 462h4M537 462h1M542 462h1M546 462h2M549 462h1M552 462h1M556 462h1M565 462h1M567 462h3M571 462h1M575 462h4M582 462h1M584 462h1M601 462h1M488 463h1M500 463h3M509 463h1M511 463h1M516 463h3M534 463h1M539 463h5M545 463h1M549 463h1M556 463h1M561 463h2M565 463h1M569 463h1M571 463h1M577 463h3M591 463h1M601 463h1M610 463h1M513 464h5M521 464h1M530 464h1M539 464h1M543 464h1M547 464h2M565 464h5M571 464h1M573 464h3M579 464h3M588 464h1M598 464h1M609 464h1M504 465h5M511 465h1M515 465h1M521 465h2M527 465h1M530 465h1M534 465h1M539 465h1M543 465h1M550 465h1M563 465h7M572 465h4M578 465h1M580 465h1M588 465h1M596 465h2M601 465h1M603 465h2M504 466h2M508 466h1M513 466h1M515 466h1M521 466h3M532 466h2M539 466h3M558 466h2M565 466h5M572 466h2M588 466h1M590 466h3M600 466h1M602 466h3M607 466h3M479 467h1M496 467h1M511 467h2M515 467h1M518 467h5M526 467h1M533 467h1M537 467h1M540 467h2M549 467h1M556 467h3M563 467h1M567 467h1M569 467h1M578 467h2M585 467h1M599 467h4M608 467h1M479 468h1M488 468h1M491 468h4M496 468h1M502 468h2M521 468h4M529 468h2M533 468h3M537 468h1M540 468h2M543 468h2M548 468h1M558 468h1M566 468h2M572 468h4M580 468h2M584 468h1M593 468h1M600 468h2M604 468h2M608 468h2M491 469h1M494 469h3M502 469h2M521 469h3M529 469h1M540 469h6M547 469h1M566 469h2M569 469h3M580 469h1M586 469h1M591 469h1M601 469h1M605 469h4M486 470h2M491 470h1M494 470h2M509 470h1M514 470h3M525 470h2M538 470h1M541 470h1M543 470h1M546 470h1M554 470h2M567 470h1M569 470h3M573 470h2M578 470h2M589 470h1M591 470h1M597 470h2M607 470h2M487 471h1M489 471h1M494 471h3M509 471h1M514 471h1M521 471h2M532 471h1M546 471h1M549 471h1M554 471h2M559 471h2M567 471h1M570 471h1M582 471h2M587 471h1M591 471h1M593 471h1M597 471h4M610 471h1M493 472h3M519 472h3M539 472h1M544 472h1M547 472h5M553 472h2M564 472h2M570 472h2M575 472h3M591 472h3M602 472h1M610 472h1M486 473h1M488 473h2M501 473h5M519 473h3M531 473h2M545 473h1M555 473h1M560 473h2M583 473h1M589 473h3M599 473h1M490 474h1M501 474h2M505 474h1M515 474h1M521 474h2M529 474h1M536 474h1M564 474h4M582 474h3M601 474h2M490 475h1M511 475h1M515 475h1M524 475h1M526 475h2M529 475h2M533 475h1M542 475h3M547 475h1M549 475h1M551 475h3M564 475h1M567 475h1M587 475h1M592 475h4M597 475h1M603 475h1M482 476h1M485 476h2M492 476h5M511 476h1M514 476h2M517 476h1M519 476h1M527 476h4M536 476h1M539 476h1M547 476h1M552 476h1M563 476h1M566 476h1M569 476h1M571 476h2M588 476h6M602 476h2M606 476h1M494 477h2M499 477h1M503 477h2M506 477h2M514 477h1M517 477h2M523 477h2M532 477h1M539 477h2M545 477h1M550 477h1M557 477h1M562 477h2M567 477h1M571 477h2M583 477h1M585 477h5M599 477h2M495 478h1M498 478h1M523 478h1M534 478h1M536 478h1M550 478h1M555 478h1M562 478h1M566 478h2M572 478h1M576 478h2M586 478h2M595 478h2M600 478h1M609 478h2M492 479h1M498 479h1M504 479h1M510 479h2M518 479h3M523 479h1M538 479h1M544 479h1M551 479h1M563 479h2M566 479h1M577 479h1M581 479h2M586 479h5M595 479h1M603 479h2M606 479h2M609 479h2M494 480h5M500 480h2M509 480h3M523 480h1M525 480h3M533 480h1M540 480h2M549 480h1M559 480h1M566 480h1M569 480h1M586 480h1M588 480h1M590 480h2M593 480h1M595 480h1M600 480h1M604 480h3M609 480h2M481 481h1M492 481h4M497 481h1M506 481h3M519 481h1M524 481h1M533 481h2M541 481h1M548 481h1M553 481h1M559 481h1M561 481h2M565 481h2M568 481h1M575 481h1M580 481h2M606 481h1M489 482h1M494 482h2M498 482h1M501 482h1M520 482h1M533 482h1M536 482h1M541 482h1M547 482h2M553 482h1M557 482h1M566 482h1M573 482h2M577 482h2M580 482h1M595 482h1M489 483h1M492 483h3M498 483h1M501 483h1M513 483h3M519 483h2M526 483h1M538 483h5M546 483h2M554 483h2M573 483h2M578 483h1M587 483h1M598 483h2M601 483h2M488 484h1M515 484h1M517 484h1M520 484h1M525 484h2M529 484h2M536 484h1M539 484h4M553 484h3M564 484h1M569 484h3M574 484h1M588 484h1M591 484h1M594 484h1M598 484h1M603 484h5M609 484h1M488 485h1M498 485h7M517 485h1M520 485h1M530 485h1M535 485h2M541 485h4M569 485h4M591 485h1M594 485h1M603 485h1M607 485h1M493 486h1M498 486h2M513 486h1M518 486h3M526 486h1M536 486h2M540 486h4M563 486h1M567 486h1M575 486h5M587 486h3M598 486h1M601 486h3M608 486h1M485 487h1M493 487h1M499 487h1M521 487h1M530 487h1M536 487h2M539 487h3M559 487h2M575 487h1M586 487h1M598 487h1M601 487h4M610 487h1M496 488h2M508 488h1M512 488h2M523 488h1M530 488h1M537 488h1M541 488h4M547 488h3M552 488h1M555 488h1M562 488h1M566 488h1M571 488h1M582 488h2M590 488h1M485 489h1M490 489h1M496 489h1M511 489h3M515 489h1M535 489h1M538 489h2M542 489h1M548 489h1M554 489h6M562 489h1M566 489h1M568 489h1M597 489h1M603 489h6M499 490h3M503 490h1M508 490h2M511 490h1M522 490h2M531 490h3M538 490h2M544 490h1M547 490h5M553 490h3M557 490h2M562 490h1M565 490h1M572 490h1M576 490h4M589 490h1M592 490h1M597 490h1M602 490h3M486 491h3M495 491h2M501 491h1M503 491h1M509 491h1M529 491h1M534 491h1M544 491h1M548 491h6M555 491h1M557 491h1M568 491h3M572 491h3M576 491h1M579 491h2M587 491h1M592 491h1M596 491h2M601 491h2M606 491h1M486 492h1M489 492h1M494 492h4M503 492h2M509 492h2M519 492h1M522 492h2M527 492h1M532 492h3M542 492h1M544 492h1M549 492h1M551 492h1M553 492h1M557 492h1M561 492h3M565 492h1M568 492h2M572 492h1M578 492h1M587 492h1M593 492h1M596 492h2M603 492h1M489 493h1M494 493h1M497 493h1M504 493h1M507 493h3M513 493h1M523 493h1M532 493h5M539 493h1M542 493h1M556 493h2M561 493h1M564 493h2M569 493h1M571 493h1M575 493h1M607 493h2M504 494h3M508 494h1M512 494h1M516 494h3M528 494h1M531 494h3M536 494h1M546 494h1M557 494h5M563 494h2M569 494h1M571 494h1M599 494h1M601 494h1M485 495h2M489 495h1M502 495h1M505 495h3M509 495h1M511 495h3M515 495h2M518 495h1M522 495h1M530 495h7M546 495h1M553 495h1M555 495h3M559 495h3M564 495h1M570 495h1M577 495h1M584 495h1M594 495h2M598 495h1M603 495h1M486 496h1M497 496h1M512 496h4M519 496h2M524 496h3M528 496h4M542 496h2M548 496h1M559 496h10M577 496h1M579 496h1M590 496h1M595 496h1M598 496h2M607 496h4M486 497h1M489 497h2M496 497h2M501 497h2M513 497h2M517 497h4M528 497h2M531 497h1M533 497h4M544 497h1M550 497h1M552 497h1M559 497h1M561 497h1M563 497h1M565 497h2M581 497h1M583 497h3M587 497h1M603 497h1M608 497h3M491 498h1M503 498h2M521 498h1M533 498h2M540 498h1M543 498h2M557 498h1M559 498h1M569 498h3M581 498h2M584 498h1M588 498h1M597 498h2M608 498h1M487 499h3M495 499h1M501 499h1M504 499h1M511 499h5M521 499h1M528 499h1M543 499h1M559 499h1M577 499h3M488 500h1M492 500h1M501 500h2M510 500h3M550 500h1M562 500h2M572 500h1M574 500h1M577 500h1M583 500h1M589 500h1M595 500h1M597 500h1M600 500h2M603 500h2M501 501h2M505 501h1M507 501h2M512 501h1M515 501h2M536 501h1M538 501h1M540 501h1M542 501h2M545 501h1M547 501h1M551 501h1M554 501h1M556 501h3M560 501h1M563 501h3M572 501h1M576 501h4M595 501h1M600 501h1M606 501h1M502 502h2M505 502h2M516 502h3M528 502h3M534 502h1M536 502h4M544 502h1M558 502h1M560 502h1M583 502h1M602 502h2M607 502h1M610 502h1M496 503h1M502 503h1M508 503h1M519 503h4M531 503h1M534 503h4M542 503h3M561 503h3M592 503h1M604 503h2M607 503h1M510 504h1M516 504h1M520 504h1M526 504h1M533 504h1M536 504h1M542 504h1M544 504h5M562 504h1M572 504h2M584 504h1M592 504h4M604 504h1M606 504h1M494 505h2M510 505h1M544 505h1M570 505h1M580 505h1M584 505h2M588 505h2M592 505h1M595 505h2M604 505h2M609 505h1M499 506h1M513 506h1M515 506h3M520 506h2M524 506h3M532 506h1M534 506h1M539 506h1M544 506h1M557 506h2M569 506h1M574 506h3M588 506h1M590 506h1M595 506h1M609 506h2M499 507h1M501 507h1M515 507h1M517 507h1M521 507h1M525 507h2M529 507h1M550 507h4M558 507h1M569 507h1M578 507h1M581 507h1M595 507h1M504 508h1M512 508h1M515 508h3M519 508h1M525 508h2M546 508h2M549 508h1M551 508h1M553 508h1M558 508h1M566 508h1M574 508h2M581 508h2M584 508h3M601 508h1M603 508h1M492 509h1M501 509h1M514 509h3M519 509h1M522 509h3M528 509h1M530 509h1M541 509h1M545 509h1M551 509h1M560 509h1M574 509h1M576 509h2M582 509h1M584 509h3M601 509h1M605 509h1M492 510h2M510 510h4M515 510h4M533 510h1M536 510h1M542 510h1M545 510h1M555 510h1M567 510h2M575 510h3M585 510h1M595 510h1M601 510h3M493 511h1M498 511h1M510 511h1M513 511h1M515 511h3M519 511h1M530 511h2M540 511h3M554 511h1M557 511h2M562 511h1M565 511h3M574 511h2M581 511h1M595 511h1M601 511h1M496 512h1M498 512h2M525 512h3M531 512h1M533 512h1M557 512h2M562 512h4M574 512h1M594 512h4M599 512h1M601 512h1M507 513h1M512 513h1M514 513h1M517 513h2M520 513h1M525 513h1M533 513h1M544 513h3M551 513h2M563 513h1M572 513h3M581 513h2M585 513h1M587 513h1M593 513h3M600 513h2M606 513h4M498 514h1M502 514h1M509 514h3M516 514h3M533 514h1M537 514h1M544 514h1M546 514h1M549 514h3M553 514h1M555 514h4M561 514h1M566 514h2M576 514h1M580 514h2M592 514h4M600 514h3M606 514h5M501 515h3M511 515h1M513 515h1M517 515h2M520 515h1M523 515h2M529 515h2M534 515h1M546 515h2M549 515h2M553 515h3M557 515h1M566 515h2M570 515h1M576 515h1M578 515h1M580 515h2M592 515h2M604 515h3M609 515h2M502 516h1M507 516h2M510 516h1M515 516h1M521 516h1M527 516h1M529 516h1M582 516h2M589 516h2M593 516h1M596 516h2M601 516h2M605 516h1M607 516h2M500 517h1M515 517h1M521 517h1M529 517h1M540 517h1M542 517h1M555 517h1M558 517h2M575 517h2M578 517h2M593 517h2M596 517h1M600 517h1M607 517h2M500 518h2M507 518h1M527 518h2M531 518h2M534 518h1M542 518h1M555 518h1M558 518h1M575 518h1M584 518h2M587 518h3M594 518h1M602 518h2M606 518h1M608 518h3M512 519h3M518 519h1M525 519h1M532 519h2M540 519h3M552 519h1M555 519h1M586 519h1M594 519h3M600 519h1M607 519h4M504 520h2M511 520h2M522 520h1M528 520h3M532 520h2M536 520h1M540 520h3M549 520h1M567 520h1M578 520h2M581 520h1M594 520h1M599 520h2M605 520h1M608 520h1M610 520h1M508 521h1M511 521h2M528 521h1M540 521h3M544 521h4M549 521h2M557 521h5M574 521h1M578 521h3M582 521h1M584 521h1M589 521h3M597 521h1M599 521h2M496 522h1M504 522h2M508 522h1M523 522h3M528 522h4M538 522h3M547 522h1M550 522h2M553 522h1M557 522h3M561 522h10M574 522h1M586 522h2M591 522h1M599 522h1M494 523h2M505 523h2M510 523h1M521 523h4M528 523h1M533 523h1M535 523h5M547 523h1M551 523h3M555 523h5M564 523h4M569 523h1M572 523h2M591 523h2M594 523h3M606 523h1M494 524h1M510 524h1M524 524h1M526 524h2M530 524h2M534 524h1M537 524h1M547 524h1M551 524h6M558 524h1M564 524h1M566 524h1M573 524h3M586 524h1M591 524h2M514 525h1M520 525h3M526 525h1M533 525h1M536 525h4M547 525h1M552 525h2M555 525h1M566 525h3M572 525h1M574 525h4M581 525h3M585 525h2M592 525h1M507 526h2M512 526h1M520 526h3M524 526h1M531 526h2M536 526h1M555 526h1M561 526h1M567 526h3M572 526h2M576 526h1M580 526h1M583 526h1M592 526h2M598 526h1M602 526h5M522 527h3M547 527h1M549 527h4M555 527h1M558 527h1M562 527h1M565 527h3M569 527h3M573 527h1M579 527h2M592 527h1M604 527h1M606 527h1M608 527h1M500 528h1M509 528h2M515 528h1M522 528h1M530 528h3M545 528h2M552 528h1M555 528h1M561 528h1M567 528h1M570 528h1M584 528h1M588 528h1M591 528h1M593 528h1M604 528h2M610 528h1M509 529h1M511 529h1M528 529h2M534 529h1M536 529h1M545 529h2M548 529h2M555 529h1M563 529h4M591 529h1M516 530h1M524 530h1M536 530h1M539 530h1M546 530h4M553 530h1M556 530h2M560 530h1M567 530h1M571 530h1M577 530h3M582 530h1M588 530h1M594 530h3M610 530h1M510 531h3M526 531h1M544 531h4M552 531h4M566 531h2M576 531h2M581 531h5M590 531h1M592 531h1M606 531h1M609 531h1M511 532h1M517 532h2M520 532h1M523 532h1M526 532h2M537 532h1M540 532h3M545 532h3M551 532h3M561 532h1M585 532h1M592 532h5M606 532h1M609 532h1M504 533h1M508 533h2M519 533h2M522 533h2M529 533h1M537 533h2M542 533h1M547 533h1M561 533h3M568 533h1M572 533h1M575 533h4M583 533h1M587 533h2M599 533h1M606 533h1M498 534h1M504 534h1M509 534h3M520 534h2M524 534h1M529 534h1M535 534h2M543 534h2M565 534h2M569 534h4M575 534h1M578 534h1M585 534h1M587 534h1M599 534h1M498 535h1M504 535h1M508 535h2M520 535h2M524 535h2M528 535h2M544 535h3M549 535h1M552 535h4M558 535h2M574 535h1M578 535h1M595 535h3M602 535h2M605 535h5M498 536h1M508 536h2M512 536h2M515 536h1M518 536h2M541 536h2M544 536h1M552 536h1M555 536h1M570 536h1M597 536h1M605 536h1M607 536h1M609 536h1M512 537h1M518 537h2M522 537h1M526 537h3M534 537h1M542 537h1M550 537h1M560 537h2M563 537h1M569 537h4M576 537h1M597 537h1M599 537h1M604 537h2M512 538h1M515 538h2M525 538h6M533 538h2M541 538h2M550 538h1M557 538h1M563 538h1M565 538h1M567 538h1M569 538h3M583 538h1M587 538h1M590 538h1M599 538h3M605 538h1M515 539h2M527 539h2M533 539h2M554 539h1M557 539h1M559 539h2M562 539h2M567 539h5M585 539h1M587 539h1M594 539h1M605 539h1M505 540h3M519 540h1M521 540h1M530 540h1M533 540h2M536 540h2M548 540h1M554 540h1M556 540h2M564 540h1M567 540h2M580 540h1M591 540h2M595 540h1M506 541h2M517 541h1M526 541h1M541 541h2M546 541h1M553 541h1M556 541h4M583 541h1M585 541h3M591 541h1M600 541h1M518 542h2M527 542h2M533 542h3M541 542h3M558 542h1M567 542h1M569 542h2M574 542h1M586 542h1M588 542h2M605 542h3M512 543h1M516 543h2M521 543h1M526 543h3M530 543h3M541 543h3M545 543h2M556 543h4M570 543h1M580 543h1M585 543h2M593 543h1M597 543h1M510 544h1M517 544h1M520 544h2M526 544h2M539 544h1M545 544h2M554 544h1M556 544h6M574 544h2M582 544h1M586 544h1M598 544h1M600 544h2M609 544h1M520 545h1M522 545h1M526 545h1M532 545h2M539 545h1M554 545h1M561 545h2M574 545h1M590 545h1M503 546h1M510 546h2M519 546h1M522 546h1M532 546h4M545 546h1M551 546h1M562 546h1M567 546h1M581 546h1M583 546h1M585 546h4M592 546h1M599 546h1M605 546h1M608 546h1M503 547h1M510 547h5M516 547h3M520 547h1M522 547h1M529 547h1M535 547h2M540 547h7M550 547h2M568 547h5M577 547h2M581 547h3M585 547h1M587 547h1M595 547h4M602 547h1M510 548h1M512 548h5M522 548h1M527 548h2M535 548h1M540 548h2M546 548h1M559 548h1M562 548h1M570 548h4M575 548h1M582 548h1M587 548h3M593 548h1M595 548h5M602 548h1M514 549h1M518 549h1M522 549h5M536 549h1M545 549h2M558 549h2M563 549h1M565 549h1M567 549h3M572 549h4M577 549h1M579 549h2M582 549h1M599 549h1M602 549h2M605 549h2M610 549h1M522 550h4M527 550h1M536 550h1M546 550h2M561 550h1M567 550h1M569 550h1M573 550h2M580 550h1M582 550h1M585 550h2M600 550h1M605 550h1M521 551h2M525 551h3M546 551h4M553 551h3M560 551h1M567 551h3M573 551h1M577 551h1M580 551h1M582 551h1M585 551h1M600 551h1M608 551h2M517 552h1M522 552h1M528 552h1M535 552h1M544 552h1M546 552h2M569 552h1M577 552h3M586 552h1M591 552h1M593 552h1M598 552h2M607 552h2M610 552h1M522 553h1M528 553h2M535 553h4M546 553h1M558 553h1M567 553h1M577 553h1M579 553h2M582 553h6M598 553h1M603 553h1M608 553h2M528 554h1M532 554h1M538 554h1M550 554h2M566 554h1M569 554h1M571 554h1M589 554h2M596 554h1M609 554h1M518 555h2M532 555h1M542 555h1M545 555h3M554 555h1M559 555h1M564 555h1M566 555h1M569 555h1M578 555h1M580 555h6M589 555h1M599 555h2M512 556h3M516 556h2M519 556h1M534 556h2M543 556h1M546 556h3M572 556h1M574 556h1M582 556h1M594 556h1M599 556h2M514 557h2M521 557h2M538 557h1M541 557h1M546 557h2M552 557h2M567 557h1M572 557h1M574 557h1M576 557h1M591 557h1M595 557h2M599 557h3M604 557h1M516 558h1M521 558h1M525 558h4M538 558h1M540 558h2M567 558h1M571 558h1M583 558h1M588 558h2M592 558h1M596 558h1M604 558h1M609 558h2M523 559h4M528 559h1M531 559h1M541 559h2M572 559h1M574 559h1M577 559h2M583 559h1M585 559h2M604 559h4M523 560h1M525 560h1M528 560h1M537 560h1M541 560h1M546 560h1M549 560h1M553 560h1M561 560h3M567 560h2M572 560h1M577 560h4M583 560h1M595 560h2M528 561h1M530 561h1M541 561h1M543 561h1M546 561h1M549 561h1M553 561h1M561 561h2M577 561h1M604 561h1M531 562h1M539 562h2M545 562h3M549 562h1M561 562h1M595 562h3M514 563h1M521 563h1M526 563h4M531 563h1M534 563h3M545 563h3M557 563h2M560 563h3M574 563h1M593 563h2M605 563h1M521 564h1M527 564h2M534 564h1M536 564h3M544 564h6M554 564h1M558 564h2M593 564h3M603 564h1M607 564h1M519 565h1M530 565h1M536 565h2M552 565h1M559 565h1M564 565h3M571 565h5M579 565h2M583 565h7M592 565h5M610 565h1M527 566h1M539 566h2M542 566h2M546 566h2M557 566h1M559 566h1M573 566h1M579 566h1M585 566h1M589 566h1M593 566h1M595 566h2M609 566h2M539 567h1M546 567h1M550 567h1M567 567h2M570 567h2M580 567h1M586 567h1M589 567h1M591 567h3M609 567h2M540 568h1M543 568h1M556 568h1M558 568h2M570 568h2M578 568h3M583 568h1M592 568h1M594 568h1M525 569h1M530 569h1M543 569h2M557 569h1M562 569h3M568 569h1M570 569h1M578 569h1M583 569h1M610 569h1M530 570h2M533 570h1M548 570h4M555 570h1M561 570h1M569 570h1M578 570h1M581 570h1M583 570h1M587 570h2M596 570h2M607 570h1M526 571h1M533 571h2M537 571h1M539 571h3M545 571h1M548 571h1M552 571h4M559 571h1M561 571h1M567 571h1M571 571h2M577 571h1M587 571h2M592 571h1M602 571h1M604 571h1M520 572h1M541 572h3M546 572h5M552 572h1M554 572h1M560 572h6M571 572h2M585 572h1M594 572h1M597 572h2M601 572h2M524 573h3M536 573h3M543 573h1M547 573h1M552 573h2M560 573h2M567 573h3M571 573h1M573 573h1M575 573h2M581 573h1M594 573h1M605 573h1M526 574h1M528 574h1M536 574h6M554 574h1M558 574h2M563 574h2M567 574h2M573 574h4M589 574h1M598 574h2M601 574h1M605 574h1M528 575h1M530 575h1M539 575h1M545 575h1M559 575h2M563 575h2M574 575h3M583 575h2M589 575h2M593 575h2M598 575h4M606 575h1M558 576h1M560 576h1M564 576h1M568 576h1M571 576h1M573 576h3M589 576h1M598 576h1M605 576h1M533 577h1M543 577h1M546 577h2M562 577h5M568 577h1M574 577h4M600 577h3M526 578h1M530 578h1M533 578h1M543 578h2M561 578h2M568 578h1M575 578h1M585 578h1M587 578h1M598 578h1M601 578h2M530 579h1M544 579h1M556 579h1M558 579h2M561 579h2M564 579h1M573 579h3M581 579h3M585 579h1M589 579h3M594 579h1M610 579h1M526 580h1M539 580h3M544 580h1M551 580h1M564 580h1M571 580h4M577 580h2M581 580h3M591 580h1M605 580h2M538 581h1M541 581h1M544 581h1M547 581h2M550 581h1M559 581h3M568 581h2M571 581h1M579 581h1M581 581h2M591 581h1M593 581h2M603 581h3M541 582h1M547 582h2M552 582h1M559 582h1M569 582h1M577 582h1M579 582h1M587 582h1M593 582h2M604 582h4M537 583h2M541 583h1M544 583h2M547 583h2M554 583h1M559 583h2M569 583h1M576 583h2M579 583h1M582 583h2M589 583h1M605 583h1M607 583h1M538 584h1M542 584h1M545 584h1M547 584h3M551 584h1M555 584h1M557 584h1M559 584h1M562 584h3M573 584h1M579 584h1M594 584h1M605 584h4M538 585h2M541 585h1M545 585h1M547 585h1M549 585h3M555 585h1M558 585h6M565 585h1M570 585h6M584 585h5M594 585h1M598 585h1M608 585h3M538 586h1M541 586h1M543 586h1M545 586h1M549 586h1M551 586h1M562 586h5M574 586h2M584 586h2M542 587h1M549 587h1M551 587h1M555 587h1M557 587h1M582 587h1M588 587h1M604 587h1M606 587h2M609 587h1M539 588h1M550 588h3M554 588h1M572 588h2M575 588h2M579 588h1M583 588h2M588 588h1M590 588h2M594 588h1M599 588h1M604 588h1M539 589h1M552 589h1M555 589h2M575 589h1M579 589h1M582 589h1M605 589h3M562 590h1M565 590h2M575 590h1M579 590h3M586 590h1M588 590h4M593 590h4M607 590h1M548 591h1M568 591h3M577 591h1M589 591h1M592 591h1M594 591h1M596 591h1M600 591h1M539 592h2M552 592h2M559 592h1M565 592h2M576 592h3M585 592h1M593 592h1M603 592h2M609 592h1M549 593h1M553 593h1M557 593h1M560 593h1M564 593h3M568 593h1M571 593h1M584 593h5M593 593h3M599 593h1M601 593h2M539 594h2M549 594h1M554 594h1M564 594h3M570 594h1M575 594h2M580 594h1M582 594h2M589 594h1M595 594h3M599 594h1M547 595h1M553 595h1M563 595h4M576 595h1M580 595h1M583 595h1M587 595h1M596 595h1M599 595h3M604 595h1M556 596h2M563 596h1M571 596h4M592 596h1M597 596h2M600 596h5M606 596h3M539 597h1M547 597h2M556 597h1M560 597h1M563 597h1M584 597h1M589 597h4M600 597h2M605 597h6M549 598h1M552 598h1M576 598h1M586 598h1M588 598h2M594 598h1M599 598h1M603 598h4M609 598h1M559 599h1M565 599h2M569 599h2M576 599h1M594 599h3M604 599h1M606 599h1M609 599h1M547 600h1M551 600h6M565 600h2M568 600h3M586 600h1M595 600h2M602 600h1M604 600h1M606 600h1M554 601h1M564 601h1M568 601h1M577 601h1M580 601h1M585 601h4M602 601h3M553 602h1M581 602h1M584 602h1M599 602h2M602 602h2M553 603h1M584 603h1M590 603h1M600 603h2M609 603h1M550 604h1M555 604h4M563 604h1M571 604h1M586 604h1M600 604h1M556 605h2M561 605h2M571 605h2M576 605h1M578 605h1M581 605h2M586 605h2M595 605h4M551 606h3M564 606h2M569 606h1M574 606h6M586 606h1M597 606h1M603 606h2M551 607h4M565 607h1M583 607h3M598 607h3M553 608h1M582 608h1M584 608h1M605 608h1M610 608h1M562 609h1M577 609h1M581 609h2M586 609h1M592 609h2M599 609h2M610 609h1M566 610h2M570 610h2M584 610h3M590 610h2M593 610h1M596 610h2M606 610h2M609 610h1" stroke="rgb(204,204,204)" transform="translate(0 .5)"/><path d="M606 213h1M597 219h1M596 222h2M596 223h1M595 224h2M595 225h1M599 225h1M597 227h1M600 228h1M600 231h1M607 231h1M591 232h2M598 232h3M605 232h1M600 233h1M600 234h1M606 234h5M576 235h2M597 235h1M600 235h1M608 235h1M608 236h2M583 237h1M590 237h3M608 237h1M576 238h1M579 238h1M582 238h1M608 238h1M580 239h2M595 239h2M608 239h3M580 240h1M604 240h1M610 240h1M608 241h1M590 242h1M608 242h1M591 243h1M593 244h1M589 245h1M593 245h1M609 245h1M576 246h3M589 246h1M593 246h1M576 247h3M589 247h1M563 248h2M576 248h1M599 248h1M576 249h1M606 249h1M571 250h2M600 250h1M572 251h1M577 251h1M583 251h1M569 252h1M584 252h1M593 252h1M567 253h2M571 253h1M584 253h2M589 253h2M585 254h1M590 254h1M601 254h3M555 255h1M566 255h1M579 255h1M585 255h1M604 255h1M610 255h1M557 256h1M577 256h1M597 256h3M610 256h1M573 257h1M607 257h2M551 258h1M554 258h2M560 258h1M583 258h2M606 258h1M608 258h1M554 259h1M577 259h1M583 259h2M590 259h1M605 259h2M610 259h1M571 260h1M576 260h3M604 260h2M608 260h3M577 261h1M592 261h2M565 262h1M572 262h1M577 262h1M592 262h2M597 262h3M583 263h1M593 263h2M610 263h1M581 264h3M599 264h1M603 264h1M610 264h1M555 265h1M580 265h2M590 265h1M570 266h1M581 266h1M604 266h1M542 267h1M553 267h1M564 267h1M570 267h1M598 267h1M555 268h1M564 268h1M592 268h2M539 269h1M545 269h1M556 269h1M563 269h2M570 269h1M574 269h1M577 269h1M593 269h7M563 270h1M578 270h1M580 270h2M598 270h1M608 270h1M578 271h1M582 271h2M586 271h1M598 271h1M608 271h1M570 272h1M578 272h1M586 272h1M598 272h1M600 272h1M602 272h2M605 272h2M578 273h1M590 273h1M598 273h1M539 274h1M557 274h1M569 274h1M589 274h1M609 274h1M539 275h1M544 275h1M557 275h1M569 275h1M588 275h3M609 275h1M544 276h1M551 276h1M557 276h1M592 276h1M606 276h1M609 276h1M544 277h1M592 277h1M606 277h2M547 278h1M559 278h1M566 278h1M585 278h2M592 278h1M594 278h1M606 278h1M569 279h1M593 279h1M595 279h1M567 280h1M577 280h1M609 280h2M555 281h1M561 281h1M567 281h1M574 281h1M555 282h1M567 282h1M579 282h2M609 282h2M544 283h1M548 283h2M554 283h1M571 283h2M574 283h1M579 283h1M587 283h1M589 283h1M604 283h3M609 283h2M544 284h1M550 284h1M562 284h5M571 284h1M587 284h1M589 284h1M602 284h2M608 284h1M564 285h3M586 285h1M607 285h2M577 286h2M582 286h1M598 286h1M607 286h2M534 287h1M538 287h1M551 287h2M557 287h5M578 287h1M582 287h1M609 287h1M547 288h1M564 288h2M597 288h1M605 288h2M609 288h1M532 289h1M556 289h3M566 289h1M521 290h1M539 290h1M548 290h2M566 290h1M570 290h1M578 290h4M601 290h1M541 291h1M553 291h1M556 291h2M563 291h2M581 291h1M597 291h1M609 291h1M531 292h2M553 292h1M584 292h1M555 293h5M595 293h1M607 293h2M548 294h2M555 294h1M562 294h1M573 294h1M581 294h1M603 294h4M528 295h1M533 295h1M535 295h1M549 295h1M562 295h1M566 295h1M580 295h1M590 295h1M594 295h3M603 295h2M539 296h2M550 296h2M558 296h1M560 296h1M586 296h2M590 296h1M599 296h1M522 297h2M545 297h1M559 297h2M569 297h1M572 297h1M587 297h1M590 297h1M523 298h1M548 298h1M559 298h1M567 298h2M572 298h2M576 298h1M580 298h2M591 298h2M526 299h1M528 299h3M530 300h1M561 300h1M585 300h3M590 300h1M604 300h2M531 301h2M539 301h1M583 301h1M591 301h2M530 302h1M542 302h2M563 302h1M591 302h1M515 303h1M530 303h1M586 303h1M594 303h1M597 303h1M605 303h1M562 304h1M566 304h1M573 304h2M586 304h1M599 304h1M522 305h1M547 305h1M573 305h1M577 305h1M581 305h1M599 305h1M528 306h1M536 306h1M564 306h3M573 306h1M578 306h1M581 306h2M602 306h2M607 306h2M610 306h1M536 307h2M571 307h1M573 307h1M593 307h1M603 307h1M606 307h1M608 307h1M536 308h1M592 308h1M599 308h2M517 309h1M530 309h2M534 309h1M589 309h1M599 309h2M605 309h2M517 310h1M523 310h4M530 310h1M600 310h2M523 311h1M541 311h1M551 311h1M560 311h3M590 311h1M596 311h3M600 311h1M603 311h1M573 312h3M590 312h1M596 312h3M547 313h2M578 313h1M588 313h1M593 313h1M597 313h4M540 314h1M547 314h1M562 314h2M568 314h1M578 314h1M588 314h1M595 314h1M540 315h1M558 315h1M562 315h1M566 315h1M575 315h2M582 315h1M591 315h2M523 316h1M529 316h1M556 316h2M562 316h1M570 316h2M581 316h2M596 316h1M606 316h1M523 317h1M540 317h1M562 317h3M571 317h1M521 318h1M532 318h1M559 318h1M562 318h1M601 318h2M522 319h4M528 319h1M543 319h4M579 319h1M593 319h1M605 319h1M608 319h3M524 320h1M535 320h1M572 320h2M590 320h2M595 320h1M608 320h1M610 320h1M533 321h1M561 321h2M588 321h1M594 321h1M598 321h3M608 321h1M610 321h1M544 322h1M559 322h1M562 322h1M566 322h2M569 322h1M579 322h1M597 322h2M520 323h1M522 323h3M530 323h1M546 323h1M563 323h2M566 323h1M571 323h2M577 323h3M597 323h1M513 324h2M517 324h1M551 324h1M555 324h1M558 324h1M561 324h2M566 324h1M571 324h1M578 324h1M582 324h1M598 324h2M601 324h1M610 324h1M510 325h1M545 325h1M555 325h2M562 325h1M565 325h1M582 325h1M602 325h2M516 326h3M535 326h1M555 326h2M562 326h2M571 326h1M595 326h1M510 327h1M516 327h1M543 327h2M568 327h1M595 327h1M603 327h1M608 327h1M510 328h1M516 328h2M529 328h2M542 328h1M544 328h1M508 329h3M530 329h1M548 329h5M572 329h1M584 329h1M515 330h1M530 330h1M533 330h1M548 330h4M556 330h2M580 330h1M584 330h3M600 330h1M609 330h1M510 331h2M525 331h1M530 331h1M533 331h1M554 331h1M585 331h2M594 331h1M596 331h4M511 332h1M521 332h1M523 332h2M530 332h1M536 332h1M539 332h1M552 332h1M593 332h2M600 332h2M508 333h2M524 333h1M537 333h1M546 333h1M550 333h1M552 333h1M564 333h4M592 333h1M509 334h1M535 334h1M539 334h1M546 334h1M550 334h1M557 334h2M561 334h1M570 334h3M591 334h1M594 334h1M596 334h1M509 335h1M517 335h3M523 335h1M539 335h4M570 335h1M572 335h1M590 335h2M518 336h1M523 336h1M540 336h1M563 336h1M582 336h2M596 336h3M505 337h1M520 337h4M563 337h1M596 337h1M610 337h1M504 338h3M524 338h2M529 338h1M549 338h2M587 338h1M600 338h1M517 339h2M521 339h1M562 339h1M568 339h1M575 339h2M598 339h2M534 340h1M545 340h6M575 340h3M588 340h1M511 341h1M516 341h2M523 341h2M529 341h1M541 341h2M549 341h1M575 341h1M516 342h1M529 342h1M542 342h1M559 342h2M573 342h1M581 342h2M587 342h1M603 342h1M497 343h2M533 343h1M553 343h1M559 343h1M603 343h1M507 344h1M528 344h1M535 344h1M553 344h1M555 344h1M572 344h1M576 344h2M608 344h1M610 344h1M512 345h2M522 345h1M527 345h1M536 345h1M548 345h2M572 345h1M579 345h1M596 345h1M512 346h1M533 346h1M549 346h1M551 346h4M584 346h2M590 346h2M601 346h1M500 347h2M519 347h2M532 347h3M540 347h1M544 347h1M558 347h2M570 347h1M587 347h2M591 347h1M601 347h1M606 347h1M609 347h1M504 348h1M532 348h1M537 348h1M540 348h1M555 348h1M562 348h1M566 348h1M609 348h1M496 349h1M504 349h1M509 349h2M521 349h1M526 349h1M556 349h1M566 349h1M572 349h2M578 349h1M601 349h1M504 350h1M506 350h5M549 350h1M562 350h1M566 350h1M570 350h4M601 350h1M609 350h1M504 351h1M506 351h2M513 351h1M518 351h1M538 351h1M551 351h1M570 351h3M576 351h2M582 351h2M600 351h1M502 352h2M506 352h2M518 352h1M550 352h1M554 352h2M571 352h2M576 352h3M595 352h2M508 353h4M513 353h1M530 353h1M542 353h3M552 353h1M570 353h1M572 353h1M592 353h1M607 353h2M509 354h1M511 354h2M539 354h2M552 354h1M554 354h1M556 354h1M569 354h2M577 354h2M580 354h1M584 354h1M586 354h3M595 354h2M509 355h1M519 355h2M531 355h1M538 355h1M545 355h1M551 355h1M558 355h1M586 355h2M595 355h1M608 355h2M510 356h1M519 356h1M531 356h2M538 356h1M545 356h1M586 356h1M593 356h1M608 356h1M516 357h1M561 357h1M593 357h2M500 358h1M516 358h1M524 358h1M546 358h3M585 358h1M588 358h1M593 358h1M542 359h1M546 359h1M548 359h1M560 359h2M563 359h3M509 360h1M512 360h1M519 360h2M544 360h1M546 360h3M556 360h1M560 360h1M564 360h1M580 360h5M593 360h1M609 360h2M501 361h1M503 361h1M511 361h2M514 361h1M529 361h2M544 361h1M546 361h1M560 361h1M562 361h1M564 361h1M579 361h2M584 361h1M504 362h2M507 362h1M517 362h3M527 362h3M549 362h1M562 362h3M591 362h1M504 363h2M528 363h1M547 363h3M557 363h1M560 363h2M564 363h1M574 363h2M583 363h1M501 364h1M504 364h2M538 364h1M557 364h1M561 364h1M563 364h1M574 364h1M591 364h1M594 364h2M607 364h1M515 365h2M519 365h1M550 365h1M599 365h1M498 366h1M511 366h1M547 366h4M573 366h1M580 366h1M602 366h1M535 367h1M549 367h1M586 367h1M599 367h2M506 368h2M512 368h1M515 368h1M532 368h1M560 368h2M569 368h1M577 368h3M599 368h2M512 369h1M519 369h1M531 369h1M550 369h3M556 369h1M559 369h2M573 369h1M578 369h1M584 369h2M598 369h1M493 370h1M505 370h2M510 370h1M512 370h1M527 370h2M531 370h1M550 370h1M553 370h2M560 370h1M578 370h1M584 370h1M493 371h1M500 371h2M506 371h1M512 371h1M528 371h1M538 371h5M587 371h2M595 371h1M609 371h2M499 372h3M508 372h2M529 372h1M536 372h5M545 372h1M550 372h1M566 372h2M581 372h1M587 372h1M595 372h1M598 372h1M485 373h1M498 373h1M508 373h1M529 373h1M559 373h1M565 373h2M589 373h1M542 374h3M565 374h1M588 374h2M607 374h1M494 375h1M515 375h3M527 375h1M544 375h1M551 375h6M565 375h1M573 375h1M579 375h1M588 375h2M506 376h4M516 376h1M542 376h3M552 376h1M554 376h1M576 376h1M579 376h1M588 376h1M604 376h1M607 376h4M486 377h1M509 377h1M516 377h1M542 377h1M548 377h2M568 377h2M490 378h2M493 378h2M509 378h1M534 378h1M538 378h2M554 378h1M563 378h1M584 378h1M501 379h1M509 379h1M515 379h1M534 379h1M539 379h3M550 379h1M557 379h1M569 379h1M580 379h1M583 379h2M590 379h1M594 379h3M484 380h1M501 380h1M515 380h1M517 380h1M519 380h1M555 380h3M582 380h1M590 380h3M484 381h1M490 381h1M501 381h1M511 381h4M523 381h1M555 381h1M563 381h1M582 381h1M598 381h1M493 382h2M511 382h2M522 382h1M552 382h1M571 382h1M591 382h2M605 382h1M608 382h1M492 383h3M496 383h1M511 383h1M522 383h1M539 383h1M544 383h2M567 383h2M592 383h6M605 383h1M608 383h1M610 383h1M506 384h1M521 384h1M525 384h1M535 384h1M544 384h4M555 384h3M566 384h1M578 384h1M593 384h1M484 385h1M501 385h2M506 385h1M509 385h2M515 385h1M521 385h1M528 385h1M532 385h1M549 385h3M556 385h1M561 385h2M578 385h1M484 386h1M501 386h1M506 386h1M535 386h2M559 386h2M564 386h2M573 386h3M585 386h1M588 386h2M600 386h1M607 386h1M610 386h1M491 387h9M506 387h2M534 387h2M560 387h6M573 387h1M585 387h1M587 387h1M491 388h2M494 388h1M501 388h1M573 388h1M577 388h1M587 388h2M494 389h1M517 389h1M521 389h3M527 389h1M548 389h1M566 389h1M573 389h1M587 389h1M598 389h3M607 389h1M610 389h1M480 390h2M488 390h1M506 390h2M529 390h1M543 390h1M566 390h1M570 390h2M593 390h1M604 390h1M610 390h1M488 391h1M507 391h1M522 391h2M525 391h1M529 391h1M541 391h1M543 391h1M559 391h2M595 391h1M486 392h1M507 392h1M509 392h1M520 392h2M527 392h2M536 392h1M553 392h1M557 392h1M559 392h1M586 392h2M595 392h1M509 393h1M513 393h1M525 393h1M546 393h2M558 393h2M586 393h1M595 393h1M480 394h2M485 394h1M492 394h1M502 394h1M522 394h3M534 394h1M551 394h1M577 394h1M586 394h1M594 394h2M522 395h2M533 395h1M535 395h1M546 395h1M566 395h1M595 395h3M600 395h2M604 395h2M485 396h1M494 396h1M525 396h1M530 396h4M535 396h1M539 396h2M575 396h2M586 396h2M592 396h1M605 396h1M607 396h2M494 397h1M498 397h2M523 397h3M535 397h1M593 397h2M501 398h7M511 398h1M523 398h2M559 398h1M565 398h1M610 398h1M489 399h1M501 399h3M510 399h1M513 399h1M515 399h1M531 399h1M541 399h3M557 399h1M587 399h3M478 400h3M510 400h1M519 400h1M543 400h1M574 400h2M584 400h1M588 400h1M593 400h1M478 401h1M481 401h2M490 401h1M510 401h1M518 401h1M521 401h1M530 401h2M577 401h2M582 401h2M588 401h1M592 401h2M606 401h1M489 402h3M517 402h1M524 402h1M535 402h1M537 402h1M545 402h1M548 402h1M577 402h1M582 402h1M592 402h3M606 402h1M486 403h1M506 403h1M508 403h1M515 403h1M542 403h1M545 403h1M548 403h3M564 403h1M577 403h1M583 403h1M599 403h1M504 404h3M508 404h1M523 404h1M546 404h1M549 404h3M561 404h1M566 404h1M572 404h1M583 404h1M592 404h3M496 405h1M508 405h1M512 405h2M523 405h1M553 405h2M572 405h1M577 405h4M592 405h1M605 405h2M542 406h4M558 406h1M568 406h1M571 406h6M578 406h1M580 406h1M587 406h1M597 406h1M489 407h1M499 407h1M502 407h4M544 407h1M547 407h1M558 407h1M560 407h2M569 407h1M573 407h1M575 407h2M605 407h1M608 407h3M489 408h1M528 408h1M543 408h2M547 408h1M563 408h1M600 408h1M608 408h1M477 409h1M500 409h1M508 409h1M523 409h1M528 409h2M533 409h1M535 409h1M544 409h1M547 409h2M584 409h6M598 409h1M605 409h4M610 409h1M477 410h1M509 410h1M528 410h1M548 410h1M574 410h2M584 410h1M587 410h1M605 410h1M607 410h1M528 411h1M542 411h1M547 411h2M553 411h1M566 411h1M570 411h1M607 411h1M484 412h1M488 412h1M507 412h1M515 412h1M548 412h5M558 412h1M563 412h1M590 412h1M599 412h1M498 413h1M522 413h4M550 413h1M552 413h3M568 413h1M601 413h2M504 414h2M512 414h1M522 414h2M529 414h1M533 414h1M538 414h2M573 414h1M581 414h1M594 414h1M602 414h1M504 415h1M529 415h1M531 415h3M536 415h1M538 415h2M572 415h3M597 415h1M602 415h1M494 416h1M518 416h3M527 416h6M536 416h1M547 416h1M570 416h1M572 416h2M581 416h2M531 417h1M536 417h1M572 417h2M581 417h1M586 417h1M596 417h3M604 417h1M489 418h1M496 418h1M502 418h1M511 418h1M541 418h1M572 418h1M582 418h1M596 418h2M606 418h1M502 419h1M508 419h1M560 419h1M564 419h1M569 419h1M571 419h2M575 419h1M579 419h4M584 419h4M591 419h1M595 419h1M479 420h2M493 420h1M502 420h1M506 420h2M568 420h2M580 420h1M585 420h1M594 420h2M479 421h2M483 421h1M496 421h1M507 421h1M530 421h2M539 421h1M560 421h4M566 421h1M569 421h1M576 421h1M585 421h1M518 422h1M532 422h2M551 422h1M561 422h1M595 422h3M505 423h1M518 423h1M522 423h3M528 423h2M535 423h2M544 423h1M555 423h1M484 424h1M496 424h1M524 424h1M526 424h1M535 424h1M544 424h1M570 424h2M601 424h2M525 425h1M598 425h2M609 425h1M511 426h1M598 426h1M608 426h2M486 427h3M524 427h1M543 427h1M553 427h3M486 428h2M496 428h1M503 428h2M524 428h2M553 428h1M555 428h1M567 428h1M576 428h3M592 428h1M485 429h2M503 429h1M523 429h2M536 429h2M553 429h1M567 429h1M580 429h1M604 429h1M502 430h1M536 430h1M547 430h2M553 430h1M563 430h1M567 430h1M581 430h3M599 430h1M512 431h1M523 431h2M548 431h1M581 431h1M606 431h1M609 431h2M472 432h1M514 432h2M521 432h1M524 432h1M531 432h1M537 432h1M511 433h1M518 433h3M529 433h3M559 433h1M499 434h1M517 434h1M520 434h1M531 434h1M544 434h3M548 434h1M559 434h1M475 435h2M488 435h1M499 435h1M509 435h1M543 435h2M546 435h1M558 435h1M560 435h1M563 435h1M608 435h3M475 436h1M501 436h5M513 436h1M523 436h1M527 436h1M530 436h2M534 436h1M540 436h1M558 436h1M576 436h1M589 436h2M486 437h2M501 437h1M506 437h4M512 437h1M530 437h4M548 437h1M552 437h1M589 437h1M598 437h1M601 437h1M486 438h1M498 438h2M506 438h3M513 438h4M530 438h1M542 438h2M548 438h1M562 438h2M571 438h2M591 438h1M599 438h1M495 439h1M508 439h2M514 439h4M524 439h1M529 439h2M534 439h1M542 439h2M545 439h3M558 439h1M496 440h1M501 440h1M523 440h1M526 440h2M535 440h1M543 440h1M565 440h1M578 440h2M587 440h1M609 440h1M484 441h1M488 441h1M501 441h1M515 441h1M522 441h2M535 441h1M539 441h2M549 441h1M569 441h1M572 441h1M582 441h1M595 441h2M609 441h1M483 442h1M490 442h1M493 442h3M523 442h1M554 442h2M565 442h1M572 442h1M576 442h1M585 442h1M594 442h4M605 442h2M609 442h1M482 443h2M505 443h1M515 443h1M519 443h2M568 443h1M572 443h1M576 443h1M594 443h2M605 443h2M520 444h1M536 444h1M539 444h1M553 444h2M563 444h1M568 444h2M586 444h2M592 444h1M598 444h1M601 444h4M490 445h1M524 445h3M528 445h2M551 445h1M568 445h1M581 445h1M587 445h1M602 445h1M604 445h2M607 445h1M482 446h2M494 446h1M523 446h2M528 446h2M568 446h1M582 446h1M593 446h1M500 447h1M503 447h1M529 447h2M572 447h2M582 447h1M593 447h1M500 448h1M519 448h1M523 448h1M539 448h2M556 448h3M569 448h1M573 448h1M586 448h1M610 448h1M490 449h1M499 449h2M504 449h1M518 449h2M567 449h2M606 449h1M608 449h3M486 450h1M500 450h1M504 450h2M518 450h2M524 450h1M545 450h1M548 450h1M568 450h3M580 450h1M593 450h1M604 450h4M490 451h2M502 451h1M504 451h1M522 451h3M526 451h1M539 451h2M545 451h1M548 451h1M563 451h2M566 451h1M568 451h1M580 451h1M593 451h1M605 451h1M607 451h1M610 451h1M484 452h5M498 452h1M501 452h2M526 452h1M532 452h1M539 452h1M543 452h3M558 452h1M563 452h4M568 452h1M580 452h1M584 452h2M587 452h2M599 452h2M506 453h1M544 453h2M559 453h1M561 453h2M564 453h1M566 453h3M581 453h1M588 453h1M597 453h1M488 454h1M508 454h1M524 454h2M542 454h1M562 454h1M572 454h1M574 454h1M586 454h1M591 454h1M596 454h2M480 455h4M504 455h2M565 455h4M580 455h3M586 455h1M595 455h3M512 456h2M559 456h2M567 456h1M578 456h1M581 456h1M489 457h2M493 457h2M505 457h2M511 457h1M525 457h1M535 457h2M552 457h3M559 457h2M575 457h8M510 458h1M512 458h2M520 458h2M531 458h1M535 458h3M545 458h1M551 458h1M569 458h1M577 458h1M581 458h1M586 458h1M594 458h3M609 458h1M494 459h1M497 459h2M506 459h2M510 459h1M513 459h2M519 459h3M537 459h1M545 459h1M551 459h3M569 459h1M571 459h1M583 459h3M594 459h1M596 459h1M599 459h1M495 460h1M497 460h1M513 460h5M520 460h1M524 460h2M530 460h1M538 460h2M544 460h2M579 460h2M583 460h1M606 460h1M495 461h1M497 461h1M502 461h2M515 461h3M538 461h1M542 461h3M583 461h1M586 461h1M497 462h1M512 462h1M548 462h1M555 462h1M583 462h1M608 462h1M478 463h1M485 463h1M493 463h1M495 463h1M497 463h1M510 463h1M512 463h1M519 463h4M526 463h2M531 463h1M548 463h1M596 463h1M495 464h1M509 464h3M524 464h1M533 464h2M586 464h1M590 464h1M596 464h1M610 464h1M479 465h2M509 465h1M531 465h2M536 465h2M545 465h1M576 465h2M594 465h2M480 466h1M511 466h1M514 466h1M520 466h1M524 466h1M545 466h1M561 466h1M577 466h4M585 466h2M595 466h1M606 466h1M499 467h1M510 467h1M513 467h2M545 467h1M559 467h1M561 467h1M580 467h1M582 467h2M586 467h1M588 467h1M527 468h1M545 468h3M562 468h2M577 468h1M582 468h1M487 469h1M546 469h1M556 469h5M562 469h2M585 469h1M587 469h1M600 469h1M609 469h1M504 470h2M507 470h1M519 470h1M556 470h1M558 470h1M560 470h1M580 470h3M585 470h1M587 470h2M599 470h2M484 471h1M493 471h1M518 471h2M538 471h1M544 471h1M550 471h1M558 471h1M564 471h1M571 471h2M581 471h1M588 471h2M489 472h1M499 472h2M508 472h2M525 472h2M534 472h1M536 472h1M541 472h2M546 472h1M555 472h1M558 472h1M572 472h1M594 472h5M499 473h2M526 473h1M535 473h1M541 473h1M549 473h1M553 473h2M557 473h2M572 473h1M582 473h1M595 473h1M598 473h1M495 474h1M497 474h1M511 474h1M532 474h4M541 474h1M549 474h1M551 474h2M554 474h1M558 474h1M568 474h2M576 474h1M516 475h1M534 475h1M545 475h1M555 475h1M565 475h2M568 475h1M601 475h1M606 475h1M490 476h1M501 476h1M523 476h1M531 476h2M543 476h1M545 476h1M568 476h1M584 476h3M601 476h1M610 476h1M515 477h1M531 477h1M533 477h1M548 477h1M565 477h2M569 477h1M579 477h1M584 477h1M590 477h2M601 477h2M479 478h3M487 478h1M515 478h4M531 478h1M546 478h1M598 478h2M604 478h1M479 479h1M500 479h1M507 479h3M514 479h1M516 479h1M546 479h1M550 479h1M558 479h1M598 479h1M502 480h1M530 480h1M550 480h1M558 480h1M564 480h1M580 480h1M589 480h1M601 480h1M496 481h1M510 481h7M530 481h1M539 481h1M551 481h1M555 481h2M564 481h1M587 481h4M592 481h1M599 481h2M607 481h1M499 482h1M506 482h5M512 482h1M514 482h1M521 482h1M530 482h1M539 482h1M567 482h3M583 482h1M591 482h2M599 482h4M496 483h1M506 483h4M521 483h1M536 483h1M560 483h2M568 483h2M575 483h1M583 483h1M605 483h2M503 484h1M508 484h2M518 484h1M521 484h1M547 484h5M566 484h1M568 484h1M575 484h1M578 484h1M587 484h1M516 485h1M532 485h1M550 485h1M566 485h1M573 485h3M583 485h1M592 485h1M602 485h1M604 485h3M483 486h1M514 486h1M532 486h1M566 486h1M604 486h1M496 487h3M500 487h3M514 487h1M519 487h1M525 487h1M538 487h1M542 487h2M556 487h1M566 487h2M585 487h1M588 487h1M597 487h1M599 487h2M504 488h2M514 488h2M531 488h1M538 488h2M588 488h1M593 488h1M505 489h1M517 489h2M531 489h1M550 489h1M587 489h2M594 489h1M507 490h1M512 490h1M518 490h2M535 490h3M546 490h1M521 491h3M536 491h1M560 491h1M564 491h2M582 491h1M588 491h2M499 492h2M506 492h3M525 492h1M582 492h1M592 492h1M496 493h1M506 493h1M521 493h1M524 493h1M577 493h2M581 493h5M592 493h1M491 494h1M497 494h1M509 494h1M583 494h1M585 494h1M597 494h2M497 495h1M514 495h1M554 495h1M566 495h2M591 495h3M596 495h2M608 495h3M522 496h2M537 496h2M540 496h1M572 496h2M591 496h3M596 496h2M604 496h1M484 497h1M538 497h1M547 497h1M560 497h1M572 497h1M586 497h1M604 497h1M492 498h3M511 498h1M541 498h2M552 498h1M583 498h1M586 498h2M589 498h1M593 498h1M596 498h1M602 498h2M492 499h3M502 499h2M541 499h2M566 499h1M573 499h1M575 499h1M586 499h3M595 499h1M600 499h1M494 500h1M508 500h1M521 500h1M524 500h1M534 500h1M557 500h1M569 500h1M578 500h1M519 501h2M549 501h2M569 501h1M585 501h4M512 502h2M515 502h1M540 502h1M545 502h1M547 502h1M550 502h3M594 502h1M596 502h2M500 503h1M512 503h2M538 503h1M545 503h1M571 503h1M574 503h1M598 503h1M602 503h2M494 504h2M522 504h1M527 504h1M532 504h1M538 504h1M543 504h1M574 504h1M587 504h1M610 504h1M526 505h2M530 505h1M536 505h1M538 505h1M554 505h1M556 505h3M561 505h1M572 505h1M587 505h1M594 505h1M608 505h1M504 506h1M518 506h1M533 506h1M538 506h1M552 506h1M566 506h1M578 506h7M518 507h1M523 507h1M565 507h3M570 507h2M579 507h1M587 507h2M494 508h3M501 508h1M509 508h1M523 508h1M538 508h3M543 508h3M550 508h1M555 508h1M572 508h2M588 508h1M594 508h2M599 508h1M495 509h1M500 509h1M525 509h2M532 509h6M539 509h1M543 509h1M550 509h1M567 509h1M573 509h1M583 509h1M591 509h1M498 510h2M526 510h2M534 510h1M543 510h1M549 510h1M551 510h1M574 510h1M590 510h2M600 510h1M499 511h1M511 511h1M532 511h2M537 511h1M549 511h3M553 511h1M555 511h1M570 511h1M594 511h1M598 511h2M511 512h1M522 512h1M528 512h1M534 512h2M544 512h1M555 512h1M568 512h3M576 512h1M582 512h1M586 512h2M605 512h2M502 513h2M508 513h1M511 513h1M515 513h2M521 513h2M529 513h1M537 513h1M547 513h2M555 513h1M568 513h1M576 513h1M586 513h1M596 513h1M522 514h1M530 514h1M541 514h1M547 514h1M552 514h1M562 514h1M568 514h1M591 514h1M496 515h1M512 515h1M522 515h1M532 515h2M539 515h1M541 515h2M556 515h1M575 515h1M586 515h2M594 515h3M607 515h2M501 516h1M511 516h2M522 516h1M532 516h1M548 516h1M551 516h3M563 516h1M586 516h1M598 516h3M604 516h1M610 516h1M501 517h1M510 517h5M522 517h1M526 517h3M561 517h1M584 517h1M590 517h1M598 517h1M605 517h1M496 518h1M510 518h1M521 518h1M536 518h1M540 518h1M554 518h1M561 518h1M524 519h1M527 519h2M536 519h1M547 519h1M554 519h1M561 519h1M585 519h1M524 520h1M585 520h1M588 520h3M592 520h1M609 520h1M492 521h2M526 521h2M596 521h1M598 521h1M601 521h2M527 522h1M554 522h1M560 522h1M575 522h1M577 522h1M588 522h1M596 522h2M600 522h1M608 522h2M514 523h1M544 523h2M549 523h2M575 523h1M580 523h1M588 523h1M608 523h1M513 524h2M519 524h1M543 524h1M557 524h1M596 524h2M534 525h2M543 525h1M550 525h1M588 525h4M595 525h2M517 526h1M534 526h1M540 526h2M558 526h3M570 526h1M595 526h1M607 526h2M514 527h5M529 527h3M541 527h1M575 527h2M596 527h4M601 527h1M607 527h1M529 528h1M541 528h4M547 528h3M569 528h1M575 528h2M592 528h1M510 529h1M514 529h4M522 529h1M541 529h1M543 529h1M569 529h1M581 529h1M592 529h2M598 529h1M603 529h1M609 529h2M523 530h1M543 530h1M562 530h2M597 530h7M609 530h1M519 531h1M525 531h1M542 531h1M563 531h1M573 531h1M594 531h1M597 531h1M608 531h1M515 532h1M519 532h1M521 532h2M538 532h2M572 532h1M576 532h2M591 532h1M601 532h1M603 532h3M521 533h1M527 533h1M541 533h1M555 533h1M579 533h3M594 533h3M603 533h1M518 534h2M522 534h2M530 534h1M534 534h1M550 534h1M579 534h3M591 534h1M506 535h2M532 535h2M561 535h1M564 535h1M573 535h1M579 535h1M598 535h1M516 536h2M520 536h2M530 536h1M545 536h1M575 536h1M577 536h3M589 536h3M596 536h1M598 536h1M516 537h1M520 537h2M531 537h2M567 537h1M577 537h1M579 537h4M591 537h1M593 537h4M521 538h1M531 538h1M539 538h1M576 538h2M582 538h1M584 538h2M594 538h2M610 538h1M508 539h1M517 539h1M538 539h2M542 539h1M553 539h1M555 539h1M592 539h1M603 539h1M508 540h1M517 540h1M539 540h1M542 540h1M558 540h1M562 540h1M572 540h1M585 540h1M587 540h1M596 540h1M603 540h1M508 541h1M510 541h1M520 541h2M532 541h1M565 541h1M572 541h1M576 541h1M597 541h2M601 541h2M510 542h1M521 542h1M544 542h2M549 542h3M559 542h1M584 542h2M587 542h1M597 542h2M600 542h3M510 543h1M518 543h3M544 543h1M566 543h2M577 543h2M584 543h1M599 543h3M604 543h4M529 544h3M541 544h2M576 544h3M599 544h1M605 544h1M508 545h1M517 545h1M529 545h1M540 545h3M563 545h1M572 545h1M576 545h1M589 545h1M591 545h2M595 545h1M597 545h1M605 545h1M508 546h1M517 546h1M538 546h1M541 546h1M580 546h1M591 546h1M601 546h1M604 546h1M606 546h1M524 547h2M553 547h5M562 547h1M579 547h2M584 547h1M588 547h1M591 547h1M600 547h1M606 547h1M555 548h3M561 548h1M568 548h2M600 548h2M513 549h1M516 549h2M532 549h3M542 549h1M554 549h4M561 549h2M566 549h1M593 549h2M597 549h2M601 549h1M517 550h1M528 550h4M537 550h1M542 550h1M554 550h3M558 550h1M562 550h1M590 550h1M528 551h1M536 551h1M542 551h4M550 551h1M556 551h3M564 551h3M570 551h1M581 551h1M597 551h3M605 551h1M536 552h1M542 552h1M550 552h1M582 552h1M517 553h4M527 553h1M530 553h2M534 553h1M550 553h1M570 553h1M573 553h1M578 553h1M595 553h1M601 553h1M606 553h1M517 554h3M527 554h1M531 554h1M556 554h1M594 554h2M607 554h1M520 555h2M531 555h1M556 555h1M565 555h1M568 555h1M586 555h1M520 556h1M530 556h2M565 556h1M580 556h2M593 556h1M598 556h1M601 556h2M609 556h2M545 557h1M563 557h1M565 557h2M581 557h1M584 557h7M593 557h1M543 558h1M566 558h1M584 558h1M587 558h1M537 559h1M540 559h1M571 559h1M582 559h1M587 559h1M608 559h3M534 560h2M540 560h1M575 560h1M587 560h3M594 560h1M518 561h1M535 561h1M540 561h1M544 561h2M554 561h2M557 561h1M564 561h1M575 561h1M597 561h2M602 561h1M518 562h1M523 562h1M525 562h1M555 562h1M562 562h3M582 562h1M593 562h1M602 562h3M525 563h1M541 563h1M543 563h2M563 563h2M571 563h1M573 563h1M575 563h3M583 563h1M604 563h1M543 564h1M566 564h2M590 564h2M596 564h2M604 564h1M606 564h1M518 565h1M527 565h1M533 565h1M539 565h2M543 565h1M599 565h1M520 566h1M530 566h1M551 566h1M558 566h1M586 566h2M594 566h1M534 567h4M551 567h1M564 567h1M581 567h1M597 567h1M604 567h1M530 568h4M539 568h1M560 568h1M589 568h2M531 569h1M541 569h1M545 569h1M561 569h1M566 569h1M580 569h1M585 569h1M588 569h1M603 569h1M605 569h1M609 569h1M540 570h2M594 570h2M601 570h3M521 571h2M535 571h1M563 571h1M594 571h1M598 571h4M603 571h1M522 572h1M529 572h1M555 572h2M567 572h4M599 572h1M539 573h4M548 573h2M558 573h1M570 573h1M583 573h1M599 573h1M601 573h3M533 574h1M542 574h1M551 574h3M578 574h1M587 574h2M594 574h2M606 574h2M533 575h1M573 575h1M578 575h1M607 575h1M526 576h1M528 576h1M532 576h1M536 576h1M553 576h2M578 576h1M580 576h5M591 576h2M596 576h1M599 576h1M526 577h1M532 577h1M554 577h1M581 577h2M589 577h3M594 577h1M545 578h2M555 578h1M567 578h1M591 578h1M603 578h2M577 579h1M592 579h2M595 579h2M600 579h1M530 580h2M537 580h1M596 580h1M530 581h1M554 581h2M570 581h1M583 581h1M588 581h1M592 581h1M596 581h1M608 581h3M563 582h1M566 582h2M570 582h1M578 582h1M580 582h1M586 582h1M610 582h1M539 583h2M555 583h1M570 583h1M588 583h1M591 583h1M593 583h1M597 583h2M609 583h2M596 584h3M554 585h1M568 585h2M579 585h2M583 585h1M595 585h1M597 585h1M554 586h1M559 586h1M577 586h2M597 586h1M606 586h2M536 587h1M574 587h5M597 587h1M549 588h1M553 588h1M555 588h2M563 588h1M567 588h3M574 588h1M577 588h2M610 588h1M545 589h1M573 589h2M578 589h1M586 589h1M552 590h1M555 590h6M573 590h2M578 590h1M598 590h2M540 591h2M555 591h1M558 591h1M590 591h2M598 591h2M601 591h1M541 592h1M581 592h1M599 592h3M606 592h1M561 593h1M567 593h1M573 593h1M581 593h1M600 593h1M604 593h2M610 593h1M541 594h3M550 594h4M556 594h1M567 594h2M572 594h1M577 594h3M581 594h1M605 594h1M543 595h1M568 595h1M577 595h1M579 595h1M562 596h1M568 596h1M580 596h1M583 596h1M585 596h1M562 597h1M564 597h1M568 597h1M576 597h2M562 598h1M574 598h1M607 598h2M544 599h2M554 599h1M562 599h1M574 599h1M577 599h1M610 599h1M545 600h1M562 600h1M575 600h2M580 600h1M592 600h1M545 601h1M549 601h1M552 601h1M555 601h1M566 601h1M572 601h1M574 601h3M581 601h1M589 601h1M549 602h1M555 602h1M564 602h1M567 602h2M571 602h2M580 602h1M588 602h3M605 602h1M564 603h1M566 603h2M577 603h2M581 603h1M576 604h5M590 604h1M568 605h1M579 605h2M589 605h2M599 605h4M572 606h1M580 606h1M595 606h1M562 607h3M575 607h3M579 607h2M588 607h1M597 607h1M607 607h1M555 608h1M562 608h1M568 608h2M573 608h1M575 608h1M597 608h1M568 609h1M579 610h1M588 610h1M592 610h1" stroke="rgb(178,178,178)" transform="translate(0 .5)"/><path d="M605 227h1M589 231h1M608 231h1M589 232h1M584 235h4M601 235h1M584 236h1M610 238h1M598 239h1M584 240h1M607 241h1M576 242h1M592 242h1M592 243h1M595 246h1M588 247h1M578 248h2M595 249h2M608 249h2M595 250h1M570 251h1M590 251h1M608 251h2M570 252h1M608 252h2M573 253h2M598 253h1M609 253h1M573 254h2M609 254h1M562 256h2M555 257h1M574 258h2M579 260h1M584 260h5M584 261h1M552 262h1M579 262h1M597 263h1M597 264h1M597 265h1M602 265h1M566 268h1M592 269h1M569 270h1M579 270h1M597 270h1M606 270h1M579 271h1M589 271h1M610 272h1M610 273h1M564 274h1M552 275h1M573 275h4M548 277h1M602 277h3M548 278h1M560 279h1M592 279h1M541 280h2M587 281h1M595 281h1M540 283h3M597 283h2M542 284h1M606 285h1M536 288h1M603 290h2M541 292h2M569 292h2M580 292h1M551 293h1M570 293h1M580 293h1M599 293h1M580 294h1M587 294h1M552 295h3M587 295h1M536 296h2M588 296h1M604 297h1M564 298h1M607 298h1M537 299h1M558 301h4M569 301h1M558 302h1M569 302h1M538 303h1M558 303h1M593 303h1M575 304h2M534 305h2M533 306h3M524 307h1M534 307h1M551 308h1M606 308h1M540 309h3M551 309h1M548 310h2M553 310h1M548 311h1M581 311h2M520 312h1M523 312h1M546 312h1M548 312h1M567 312h3M589 312h1M595 312h1M535 313h1M546 313h1M562 313h1M565 313h3M589 313h1M595 313h1M546 314h1M575 314h1M589 314h1M513 315h1M552 315h4M589 315h1M594 315h1M548 316h4M553 316h1M551 317h1M557 317h1M586 318h1M592 318h1M529 319h1M532 319h4M592 319h1M602 319h1M529 320h1M534 320h1M550 320h1M568 320h1M529 321h3M550 321h1M559 321h2M568 321h1M529 322h1M545 322h2M550 322h1M568 322h1M529 323h1M545 323h1M515 324h1M527 324h3M608 324h1M524 325h2M536 325h2M557 325h2M598 325h4M525 326h1M589 326h1M602 326h1M524 327h1M605 327h1M546 328h4M555 328h1M555 329h2M577 329h1M504 330h1M538 330h2M552 330h2M555 330h1M577 330h1M596 330h3M504 331h1M520 331h1M552 331h1M555 331h1M501 333h1M562 333h2M583 333h2M548 334h2M565 334h1M602 334h1M597 335h1M533 336h1M533 337h1M605 337h2M526 338h2M609 338h2M527 339h1M608 339h1M521 340h1M527 340h1M584 340h1M598 340h1M526 341h2M553 341h5M563 341h1M503 342h1M507 342h1M509 342h1M537 342h5M553 342h1M555 342h1M583 342h1M586 342h1M539 343h2M589 343h2M508 344h1M539 344h2M547 344h1M573 344h1M547 345h1M573 345h1M600 345h2M503 347h1M562 347h3M602 347h1M512 348h2M553 348h1M564 348h1M587 348h2M602 348h2M497 349h2M551 349h1M587 349h2M588 350h1M590 350h4M610 350h1M541 351h2M578 351h1M610 351h1M526 352h5M580 352h1M504 353h1M527 353h1M529 353h1M583 353h1M544 354h1M583 354h1M591 354h2M609 354h1M513 355h1M556 355h2M565 355h2M591 355h1M520 356h1M536 356h1M554 356h1M561 356h2M529 357h3M537 357h1M539 357h2M586 357h1M590 357h1M504 358h2M517 358h1M529 358h1M539 358h2M544 358h1M566 358h1M490 359h3M538 359h2M544 359h1M532 360h2M574 360h3M588 360h1M509 361h1M588 362h1M610 362h1M509 363h1M516 363h1M522 363h1M589 363h2M610 363h1M516 364h1M522 364h1M585 364h1M555 365h2M585 365h1M563 366h2M604 366h1M508 367h1M523 367h1M526 367h2M523 368h1M527 368h1M533 368h3M585 368h1M597 368h1M498 369h1M523 369h1M534 369h1M597 369h1M556 370h1M585 372h1M607 372h2M491 373h3M496 373h1M509 373h5M541 373h1M583 373h2M591 373h3M608 373h1M496 374h1M579 374h1M593 374h1M609 374h2M496 375h1M523 375h1M583 375h2M590 375h1M593 375h1M528 376h2M586 376h1M589 376h1M537 377h1M541 377h1M582 377h3M604 377h2M610 377h1M502 378h1M531 378h1M535 378h1M542 378h2M552 378h1M577 378h2M582 378h1M598 378h4M605 378h1M496 379h3M533 379h1M577 379h2M582 379h1M608 379h2M529 380h1M533 380h1M603 380h1M549 381h1M497 382h2M534 382h1M543 382h2M575 382h3M497 383h1M504 383h1M535 383h1M564 383h1M576 383h1M504 384h1M576 384h1M609 384h2M519 385h1M536 385h1M555 385h1M605 385h1M482 386h1M551 386h1M597 387h1M507 388h1M556 388h1M597 388h1M601 388h2M515 389h1M539 389h2M588 389h2M495 390h2M511 390h3M524 390h1M553 390h2M567 390h1M524 391h1M562 391h1M604 391h1M514 392h1M562 392h1M596 392h1M486 393h1M514 393h1M517 393h1M577 393h1M484 394h1M519 394h1M521 394h1M550 394h1M581 394h1M516 395h1M521 395h1M581 395h1M606 395h2M542 396h1M583 396h1M606 396h1M544 397h1M528 398h1M544 398h1M560 398h1M560 399h1M578 399h2M511 400h1M531 400h2M542 401h1M512 402h3M544 402h1M557 403h1M479 404h1M502 404h1M585 404h1M538 405h1M589 405h2M596 405h1M603 405h1M610 405h1M491 406h1M493 406h2M516 406h1M527 406h2M534 406h2M538 406h1M555 406h1M585 406h1M589 406h1M491 407h1M493 407h1M532 407h3M538 407h1M556 407h1M493 408h1M601 408h1M527 409h1M538 409h1M546 409h1M567 409h1M601 409h1M488 410h1M491 410h2M514 410h1M527 410h1M549 410h3M554 410h3M567 410h1M531 411h1M545 411h1M554 411h1M559 411h1M567 411h1M545 412h1M503 413h1M569 413h1M502 414h2M537 414h1M569 414h1M503 415h1M535 415h1M537 415h1M493 416h1M503 416h1M557 416h2M599 416h1M503 417h1M546 417h2M553 417h1M599 417h1M498 418h2M525 419h1M540 419h3M516 420h1M548 420h1M581 420h2M485 421h2M548 421h1M580 421h2M485 422h1M519 422h1M548 422h1M580 422h1M603 422h1M519 423h1M533 423h1M561 423h1M533 424h1M542 424h1M572 424h4M593 424h3M484 425h1M533 425h1M555 425h1M572 425h1M574 425h1M594 425h1M494 426h3M530 426h3M594 426h1M474 427h2M494 427h1M497 427h1M523 427h1M551 427h1M556 427h1M594 427h1M596 427h1M606 427h2M609 427h1M475 428h1M505 428h1M523 428h1M573 428h1M607 428h1M506 429h1M532 429h1M554 429h1M575 429h2M607 429h1M489 430h2M506 430h1M489 432h1M505 432h2M560 432h1M565 432h1M577 432h1M505 433h2M542 433h3M568 433h1M594 433h1M608 433h1M479 434h1M504 434h1M506 434h1M536 434h1M560 434h1M566 434h1M599 434h3M610 434h1M479 435h1M500 435h1M523 435h2M540 435h1M542 435h1M497 437h2M543 437h2M581 437h3M581 438h3M493 439h2M503 439h2M583 439h1M477 440h1M588 440h2M591 440h3M477 441h1M497 441h1M542 441h1M589 441h1M591 441h1M498 442h2M543 442h2M549 442h1M589 442h1M571 443h1M577 443h1M591 443h1M609 443h2M526 444h1M529 444h1M558 444h1M571 444h1M591 444h1M610 444h1M506 445h1M598 445h4M506 446h1M573 446h1M598 446h1M506 447h1M576 447h1M591 447h1M561 448h3M530 449h2M561 449h2M530 450h1M560 450h1M565 450h2M503 452h1M603 452h2M565 453h1M501 454h1M547 454h2M573 454h1M608 454h1M528 455h1M547 455h1M572 455h1M522 456h3M528 456h1M532 456h1M572 456h1M523 457h1M570 457h1M517 458h3M538 458h1M553 458h2M557 458h1M568 458h1M509 459h1M538 459h2M574 459h1M574 460h1M577 460h1M527 461h1M610 461h1M498 462h1M501 462h1M530 462h1M580 462h1M610 462h1M530 463h1M494 464h1M542 465h1M562 465h1M542 466h1M596 466h1M539 467h1M603 467h1M610 467h1M490 468h1M519 468h2M528 468h1M531 468h2M539 468h1M571 468h1M490 469h1M519 469h2M539 469h1M588 469h1M484 470h1M490 470h1M545 470h1M552 470h2M592 470h1M499 471h2M523 471h1M545 471h1M552 471h2M590 471h1M514 472h1M523 472h1M545 472h1M552 472h1M566 472h3M600 472h2M566 473h1M580 473h1M592 473h1M513 474h1M550 474h1M550 475h1M583 475h1M488 476h2M534 476h2M537 476h2M541 476h1M567 476h1M582 476h2M587 476h1M535 477h1M537 477h2M559 477h3M582 477h1M593 477h5M483 478h2M493 478h2M519 478h1M538 478h1M560 478h1M483 479h1M501 479h1M567 479h1M486 480h1M567 480h1M587 480h1M596 480h1M504 481h1M517 481h1M554 481h1M576 481h2M517 482h1M549 482h1M576 482h1M517 483h1M548 483h2M551 483h2M576 483h1M584 483h1M492 484h1M567 485h1M555 486h4M531 487h1M582 487h2M516 488h1M549 489h1M494 490h2M520 490h1M588 490h1M601 490h1M520 491h1M546 491h1M554 491h1M559 491h1M548 492h1M554 492h1M559 492h1M599 492h1M606 492h1M495 493h1M527 493h1M499 494h2M511 494h1M527 494h1M562 494h1M572 494h1M508 495h1M495 496h1M533 496h1M567 497h2M566 498h3M497 499h1M505 499h1M516 499h2M526 499h1M593 500h2M546 501h1M553 501h1M593 501h2M597 501h3M519 502h1M546 502h1M599 502h1M606 502h1M546 503h1M556 503h3M560 503h1M554 504h6M580 504h4M501 505h1M507 505h1M512 505h1M516 505h2M555 505h1M559 505h1M573 505h2M576 505h1M590 505h2M512 506h1M606 506h3M509 507h1M548 507h1M607 507h1M548 508h1M592 508h2M544 509h1M509 510h1M528 510h1M544 510h1M583 510h1M512 511h1M544 511h1M560 511h2M585 511h1M514 512h1M539 512h3M556 512h1M560 512h1M585 512h1M539 513h1M560 513h2M580 513h1M577 514h1M577 515h1M591 515h1M517 516h1M528 516h1M557 516h1M591 516h1M594 516h2M557 517h1M569 517h2M597 517h1M606 517h1M529 518h1M570 518h1M507 520h1M514 520h1M535 520h1M554 521h1M562 521h3M569 521h2M507 522h1M514 522h1M587 523h1M567 524h1M587 524h1M598 524h1M503 525h1M513 525h1M556 525h2M578 525h2M587 525h1M610 525h1M504 526h1M549 526h1M556 526h2M578 526h2M538 527h2M548 527h1M602 527h2M518 528h2M566 528h1M512 529h1M518 529h2M550 529h1M590 529h1M509 530h1M512 530h1M519 530h1M551 530h1M581 530h1M604 530h1M506 531h2M514 531h1M517 531h1M560 531h1M514 532h1M570 532h2M544 533h2M570 533h2M573 534h2M577 534h1M605 534h2M503 535h1M522 535h1M577 535h1M507 536h1M522 536h1M580 536h2M587 536h1M568 537h1M505 538h2M540 538h1M544 538h1M572 538h1M586 538h1M597 538h1M540 539h1M581 539h2M586 539h1M581 540h1M570 541h1M584 544h1M553 545h1M584 545h1M568 546h1M574 546h1M584 546h1M523 547h1M539 547h1M586 547h1M607 547h3M545 548h1M578 548h2M550 550h1M592 551h1M534 552h1M588 552h2M592 552h1M509 553h1M588 553h1M522 554h1M530 554h1M565 554h1M578 554h1M580 554h1M610 554h1M579 555h1M590 555h1M607 555h1M532 556h2M564 556h1M590 556h1M605 556h1M542 557h3M564 557h1M544 558h1M568 558h1M576 558h2M600 558h2M555 559h2M568 559h1M576 559h1M600 559h1M555 560h1M576 560h1M566 561h3M576 561h1M551 562h4M566 562h1M568 562h1M579 562h2M566 563h1M579 563h1M584 563h3M603 563h1M585 564h1M562 565h2M570 565h1M548 566h3M572 566h1M592 566h1M604 566h1M548 567h1M585 567h1M541 568h2M548 568h2M548 569h1M576 569h1M572 573h1M607 573h3M565 574h1M608 574h2M542 576h1M557 576h1M609 577h2M571 578h1M583 578h1M571 579h1M553 580h1M560 580h1M603 580h1M597 581h2M606 581h2M550 582h2M551 583h1M587 583h1M554 584h1M587 584h1M609 584h1M564 585h1M605 587h1M541 588h7M605 588h1M607 588h2M543 589h2M544 590h1M580 591h2M605 591h3M550 592h2M555 592h1M580 592h1M584 592h1M587 592h1M607 592h1M591 593h1M591 594h1M567 595h1M575 595h1M591 595h1M595 595h1M597 595h1M608 595h3M609 596h1M552 597h2M602 597h1M558 599h1M563 599h1M607 599h2M558 600h1M577 600h2M597 600h1M608 600h1M551 601h1M558 601h1M597 601h1M597 602h1M610 602h1M562 603h2M565 603h1M574 605h1M577 605h1M571 608h1M576 608h2M571 609h2M578 609h2M585 609h1M601 609h1M577 610h2" stroke="rgb(153,153,153)" transform="translate(0 .5)"/><path d="M610 217h1M605 220h1M605 221h1M603 224h2M603 225h1M601 227h1M597 228h1M597 229h1M597 231h1M592 235h1M595 237h1M598 237h2M589 243h2M595 244h1M575 245h1M598 245h2M588 246h1M599 246h1M580 250h1M578 251h1M580 251h3M572 255h1M585 256h1M603 256h2M595 257h2M603 257h2M595 258h1M603 258h1M595 259h1M601 262h3M577 264h1M605 266h1M587 267h1M587 268h1M596 268h1M591 269h1M571 271h4M565 272h1M565 273h1M576 274h1M568 275h1M606 275h3M607 276h2M543 284h1M548 284h1M565 286h2M604 287h1M527 289h1M575 289h1M596 289h1M575 290h1M526 291h1M544 291h1M575 291h1M544 292h1M563 292h1M530 297h1M571 297h1M593 298h1M541 301h1M585 302h1M585 303h1M595 304h1M527 305h2M595 305h1M541 307h2M559 308h2M585 308h1M591 308h1M610 308h1M585 309h1M575 310h1M520 311h1M530 312h1M553 312h1M560 312h1M553 313h1M574 313h2M580 316h1M570 318h1M570 319h1M585 319h1M534 321h1M589 322h2M533 323h2M534 325h1M596 327h1M602 327h1M596 328h1M526 331h1M517 332h2M566 332h1M571 333h1M580 334h1M538 335h1M532 337h1M543 337h1M542 338h2M569 339h1M511 340h1M573 340h2M518 341h1M569 342h2M570 343h1M597 345h2M532 346h1M598 346h1M537 347h1M566 347h1M605 348h3M606 349h1M527 350h1M552 350h1M568 350h1M578 350h2M581 350h1M539 351h1M579 351h1M579 352h1M581 353h1M601 353h4M537 354h1M533 355h1M552 355h1M489 357h1M495 357h1M495 358h1M502 358h1M510 363h1M551 363h1M532 365h2M594 365h2M603 365h1M574 366h2M603 366h1M575 367h1M542 368h1M559 371h1M559 372h1M494 373h1M516 373h1M528 374h2M531 374h1M492 376h1M495 376h1M520 376h1M595 376h1M495 377h1M520 377h1M595 377h1M602 377h2M564 378h1M594 378h2M602 378h1M610 378h1M581 379h1M604 382h1M554 383h1M604 383h1M523 384h2M537 384h3M554 384h1M523 385h2M583 385h1M590 385h3M515 386h1M524 386h1M583 386h1M604 387h1M482 388h1M482 389h1M509 389h1M558 389h2M539 390h1M503 391h1M550 391h1M550 392h1M606 392h1M544 394h2M578 394h2M545 395h1M552 395h1M573 398h1M598 400h2M572 401h1M518 402h1M583 402h1M536 403h2M556 403h1M562 403h1M562 404h1M574 404h1M545 405h1M562 405h1M534 408h1M607 408h1M553 409h1M496 410h1M553 410h1M523 411h2M580 411h1M499 412h1M523 412h2M564 412h2M569 412h1M482 416h1M509 418h1M487 420h1M556 421h1M604 424h1M604 425h1M503 426h1M528 426h1M545 426h2M553 426h3M585 426h3M546 427h1M603 427h2M587 429h2M491 430h1M526 430h1M587 430h1M549 431h2M608 431h1M527 432h1M570 432h1M527 433h1M488 434h1M527 434h1M534 434h1M526 435h1M526 436h1M549 436h2M603 437h2M504 438h1M519 438h4M573 438h1M578 438h1M512 439h1M575 439h2M547 440h2M566 440h5M575 440h1M536 441h1M548 441h1M567 441h1M570 441h1M491 442h1M567 442h1M570 442h1M475 443h2M491 443h1M494 443h1M592 443h1M489 444h1M491 444h1M494 444h1M590 445h1M571 446h2M590 446h1M486 447h1M571 447h1M549 449h1M501 450h2M505 451h2M584 451h2M594 451h1M506 452h1M556 452h2M543 454h2M603 455h2M585 456h1M555 458h2M491 459h2M528 459h2M555 459h1M559 461h1M543 462h2M602 462h1M508 463h1M544 463h1M604 463h2M544 464h1M552 464h1M503 465h1M519 465h1M538 466h1M504 467h1M538 467h1M504 469h1M502 470h2M517 470h1M521 470h1M585 471h2M596 471h1M503 474h2M527 474h1M542 474h1M545 474h2M574 474h2M502 475h2M546 475h1M569 475h1M508 476h1M512 476h2M512 477h1M512 478h1M559 478h1M503 480h1M503 481h1M543 481h1M549 481h1M511 482h1M540 482h1M593 482h1M599 484h1M593 485h1M599 485h1M504 486h3M600 486h1M504 487h1M596 488h1M543 489h2M502 490h1M607 490h3M507 491h2M524 491h1M591 491h1M607 491h1M524 492h1M577 492h1M544 493h2M593 493h2M544 494h1M593 494h1M503 495h1M504 496h4M498 497h2M553 497h1M513 498h1M553 498h1M532 499h1M593 499h1M532 500h1M517 501h1M531 505h5M551 505h1M505 506h1M531 506h1M535 506h1M543 506h1M559 506h2M598 506h2M560 507h1M602 508h1M602 509h1M590 511h1M588 512h1M610 512h1M526 513h1M570 513h2M571 514h1M562 515h1M571 515h1M498 516h3M550 516h1M493 517h1M523 517h1M588 517h2M523 518h1M529 519h3M525 520h3M561 520h4M525 521h1M529 521h4M551 521h3M592 522h2M604 522h2M593 523h1M593 524h1M544 525h1M554 526h1M527 527h1M536 527h1M554 527h1M574 527h1M584 527h2M521 528h1M535 529h1M504 530h1M504 531h1M543 531h1M504 532h1M562 532h3M607 532h1M607 533h1M576 534h1M588 534h1M607 534h1M558 536h6M554 537h1M598 537h1M598 538h1M546 539h1M538 540h1M554 541h1M564 541h1M584 541h1M573 542h1M597 544h1M609 545h1M518 546h1M566 547h2M583 548h3M585 549h1M532 550h2M533 551h2M563 553h1M564 554h1M547 558h1M546 559h2M598 559h1M587 561h1M598 564h1M526 565h1M526 566h1M580 566h1M550 568h1M540 569h1M553 569h1M571 569h1M537 570h1M588 572h3M588 573h1M566 574h1M588 577h1M548 579h1M552 580h1M532 581h1M551 581h1M532 582h1M569 584h1M547 589h1M595 592h2M569 593h2M577 593h2M598 594h1M558 596h1M587 596h2M605 596h1M588 597h1M554 598h3M556 599h1M582 604h3M561 606h1M587 606h3M554 608h1M610 610h1" stroke="rgb(128,128,128)" transform="translate(0 .5)"/><path d="M602 235h1M600 237h1M600 238h1M571 241h2M576 243h2M560 251h2M563 255h2M567 257h1M567 258h1M576 258h2M576 259h1M594 259h1M594 260h1M596 260h1M554 261h1M570 261h3M594 261h2M610 262h1M576 263h2M566 267h1M555 269h1M572 269h1M572 270h1M596 270h1M585 274h1M579 277h1M589 278h1M596 279h3M596 280h1M533 283h1M578 283h1M549 285h1M577 288h1M551 289h1M559 289h2M577 289h1M559 290h1M576 291h1M606 291h1M606 292h1M532 293h1M606 293h1M584 294h2M583 296h1M553 298h2M552 299h2M594 300h1M538 301h1M594 301h1M602 302h2M562 305h1M564 305h1M574 305h1M562 306h1M562 307h1M566 307h3M582 307h1M566 308h1M568 308h1M591 309h1M599 310h1M605 310h1M535 311h2M536 312h3M579 313h2M534 314h3M579 314h1M534 315h2M563 318h1M557 319h1M605 322h1M609 322h1M549 324h1M589 324h1M549 325h1M549 326h1M569 327h1M527 333h1M512 334h1M564 334h1M512 335h1M577 335h4M566 336h1M579 336h1M518 337h1M575 337h1M607 339h1M610 339h1M528 340h1M535 340h4M585 344h1M585 345h1M556 347h1M517 348h1M560 348h1M589 348h1M539 349h2M563 349h2M576 349h2M597 349h2M540 350h1M563 350h1M576 350h1M597 350h2M563 351h1M592 351h1M598 351h1M506 354h3M541 354h1M506 355h1M535 355h1M506 356h1M535 356h1M519 357h1M579 357h1M499 358h1M519 358h1M610 364h1M602 367h1M558 368h1M579 369h3M532 370h2M508 371h1M579 371h1M604 373h1M516 374h1M520 375h1M528 375h1M577 375h1M599 376h1M561 377h1M517 378h1M527 379h1M547 379h1M576 379h1M512 380h1M534 380h1M568 380h2M576 380h1M578 380h2M609 380h1M550 382h1M572 383h1M572 384h1M585 384h2M513 385h1M572 385h1M586 385h1M513 386h1M566 386h1M572 386h1M486 387h1M484 388h3M484 389h1M486 389h2M521 390h1M558 390h1M582 390h3M521 391h1M566 391h1M593 391h1M593 392h1M565 393h1M543 394h1M507 397h1M542 397h1M542 398h1M520 400h1M520 402h1M528 402h1M530 403h1M595 406h2M549 408h1M558 408h1M479 409h1M558 409h1M479 410h1M479 411h1M557 411h2M565 411h1M557 412h1M505 413h2M567 413h1M609 413h1M506 414h1M517 414h1M609 414h1M498 416h2M499 417h1M582 417h1M590 417h1M583 418h1M550 419h1M583 419h1M608 419h2M484 420h2M529 420h1M606 420h1M514 422h2M554 422h1M609 422h2M488 423h1M538 423h1M597 423h2M610 423h1M547 424h1M556 424h1M597 424h1M587 425h2M548 426h2M519 427h1M548 427h2M608 427h1M610 430h1M513 431h1M593 431h1M513 432h1M534 432h1M599 432h4M493 433h2M536 433h1M547 433h1M584 433h1M599 433h1M547 434h1M549 437h2M568 437h1M550 438h1M482 439h1M603 439h1M577 440h1M600 440h1M547 441h1M600 441h1M547 442h1M580 442h3M498 443h1M553 443h1M582 443h1M498 444h1M606 444h2M561 445h1M585 445h2M524 448h1M533 448h2M482 449h1M586 450h1M565 451h1M569 451h3M564 454h1M569 455h1M590 455h5M509 456h3M515 457h2M601 457h1M607 457h1M516 458h1M601 458h1M487 459h1M487 460h1M574 461h2M594 461h1M594 462h1M597 462h1M514 463h1M533 463h1M594 463h1M597 463h1M508 464h1M597 464h1M510 465h1M525 466h1M602 468h1M607 468h1M602 469h1M550 470h2M539 471h2M538 473h1M606 473h2M510 474h1M510 475h1M548 476h1M489 478h2M563 478h1M490 479h1M512 479h1M608 481h1M502 482h1M531 482h1M579 484h1M489 485h1M551 486h2M535 487h1M563 487h1M587 487h1M576 488h1M606 488h1M582 490h1M520 492h1M550 492h1M594 492h2M520 493h1M526 494h1M549 494h1M556 494h1M606 494h3M519 495h2M528 495h1M568 495h2M606 495h1M544 496h1M605 496h2M532 497h1M589 497h5M526 498h3M592 498h1M556 499h2M592 499h1M495 500h3M556 500h1M590 500h2M495 501h1M513 501h1M534 501h2M591 501h1M608 503h1M503 504h2M602 504h1M528 505h1M563 506h1M500 507h1M535 508h3M606 508h3M607 509h1M526 511h1M562 513h1M548 514h1M526 515h2M603 515h1M536 516h2M603 516h1M536 517h2M572 517h1M573 518h1M508 520h2M524 521h1M501 522h3M602 522h2M601 523h1M504 524h1M601 524h2M603 525h1M511 527h2M598 528h1M531 530h1M556 531h1M543 533h1M510 535h1M585 535h3M586 536h1M509 537h1M509 538h1M518 539h2M516 540h1M516 541h1M609 541h1M549 546h1M555 546h1M538 549h4M514 550h1M538 550h2M513 551h1M571 552h1M604 553h2M514 554h2M526 554h1M539 557h1M559 558h2M569 559h2M588 559h1M590 559h1M547 560h2M569 560h1M534 561h1M547 561h1M539 563h1M580 563h3M539 564h1M576 564h2M582 564h1M541 565h2M538 566h1M541 567h1M551 568h1M564 568h1M550 569h2M565 571h1M545 572h1M566 572h1M562 573h1M579 574h1M586 574h1M579 575h1M541 578h1M599 578h1M533 579h2M533 580h1M572 581h1M587 581h1M599 582h1M602 582h2M599 583h1M599 584h1M602 584h2M602 585h2M560 586h2M560 587h1M600 589h1M600 590h1M578 591h2M587 591h2M549 592h1M600 594h1M608 594h3M581 595h1M581 596h1M557 600h1M598 600h1M598 601h1M605 601h1M572 603h1M596 603h3M572 604h1M598 604h1M594 605h1M585 606h1M594 606h1M574 607h1M574 608h1M584 609h1" stroke="rgb(102,102,102)" transform="translate(0 .5)"/><path d="M606 240h2M606 241h1M579 254h1M571 257h2M580 258h1M591 263h2M539 268h1M542 269h2M594 273h2M582 274h1M590 274h1M565 275h1M567 275h1M552 276h1M559 276h1M565 276h3M607 278h2M608 279h1M557 280h1M579 280h1M603 282h1M603 283h1M549 284h1M550 285h1M567 285h2M550 286h1M594 287h1M571 288h2M594 288h1M535 290h1M604 291h1M566 293h1M597 295h1M539 297h1M560 298h1M599 299h2M529 300h1M609 300h2M529 301h1M609 301h1M546 302h1M550 302h1M585 304h1M587 304h1M543 307h1M521 310h1M591 311h1M583 313h1M583 314h1M560 315h2M583 315h1M583 316h1M526 320h1M530 320h1M540 321h1M576 323h1M600 323h3M602 324h2M565 328h3M568 329h1M544 330h1M538 331h1M587 331h3M587 332h1M554 335h1M541 336h1M571 336h1M604 336h1M571 337h1M547 338h1M565 338h3M603 338h1M513 339h1M547 339h1M566 339h1M584 339h2M508 341h3M508 342h1M526 343h1M522 346h1M557 346h2M573 346h1M586 346h1M573 347h1M586 347h1M585 348h2M524 351h1M545 351h1M545 353h1M567 354h1M537 358h1M522 359h1M537 359h1M515 360h1M522 360h1M522 361h1M563 361h1M561 362h1M601 363h4M602 364h1M604 364h1M570 366h2M580 367h2M580 368h1M608 370h1M541 374h1M512 375h1M519 375h1M608 375h3M577 376h1M577 377h1M606 377h2M523 378h1M576 378h1M606 378h1M507 379h1M523 379h1M554 379h1M567 379h2M606 379h1M558 380h1M558 381h1M609 381h2M603 382h1M609 382h1M584 383h2M574 384h2M511 385h1M529 385h2M541 385h3M587 385h1M561 389h2M501 390h1M563 390h1M598 390h1M583 391h1M510 392h2M564 392h1M526 393h1M599 393h1M505 395h1M592 395h1M505 396h1M558 396h2M594 398h1M558 399h1M486 400h1M518 400h1M486 401h1M529 403h1M531 403h1M543 404h1M552 404h1M499 405h1M552 405h1M519 407h1M541 407h1M559 407h1M559 408h1M502 410h1M544 411h1M525 415h1M505 416h3M589 417h1M578 418h1M551 419h2M549 422h2M501 423h1M537 423h1M549 423h1M580 423h1M598 424h1M499 425h2M484 426h1M583 426h1M493 427h1M541 428h1M596 428h1M552 429h1M528 430h1M528 431h1M582 431h4M596 432h1M592 434h1M604 434h1M497 435h1M567 436h3M584 436h4M569 437h1M585 437h1M490 438h4M518 438h1M598 438h1M500 439h1M596 439h2M517 440h1M583 440h1M597 440h1M605 440h1M597 441h1M500 442h2M506 442h1M480 443h1M497 443h1M500 443h1M482 444h1M493 444h1M542 444h1M482 445h1M575 445h1M544 446h3M601 446h1M544 447h2M553 447h2M601 447h1M477 448h1M544 448h1M553 448h1M575 448h3M575 449h1M577 449h1M598 450h1M492 451h1M515 451h1M539 453h1M555 454h1M546 455h1M546 456h1M546 457h1M480 458h1M546 458h1M480 459h1M496 463h1M504 464h1M528 464h2M529 465h1M593 466h1M589 469h1M594 470h1M601 470h1M490 471h2M565 471h1M584 471h1M594 471h1M601 471h1M481 472h1M527 472h4M532 472h1M584 472h1M494 473h1M508 475h2M519 475h1M509 476h1M553 476h1M551 478h2M542 481h1M519 482h1M523 484h1M516 487h1M600 489h1M490 491h1M490 492h1M598 492h1M542 495h1M586 495h1M586 496h1M519 498h1M607 498h1M519 500h1M564 500h3M607 500h2M497 505h1M497 506h1M591 506h1M597 506h1M530 510h1M569 510h1M569 511h1M528 513h1M595 518h1M597 518h2M505 519h1M597 519h1M573 521h1M517 522h3M594 522h2M545 524h1M569 525h2M538 528h2M606 528h1M538 529h1M606 529h1M569 531h2M531 532h2M531 533h1M564 533h2M569 533h1M564 534h1M516 535h1M510 536h1M530 537h1M538 537h2M549 539h1M595 539h2M560 541h1M560 542h1M547 544h1M573 547h1M537 548h1M605 548h1M606 551h2M583 552h1M589 553h2M592 553h2M592 554h2M599 554h3M586 560h1M535 564h1M608 565h1M560 566h1M557 567h3M565 567h1M572 567h1M565 568h1M576 568h1M571 570h1M596 572h1M600 574h1M535 576h1M586 576h1M559 577h1M586 577h1M586 578h1M576 579h1M576 580h1M576 581h1M576 582h1M581 582h4M535 584h3M592 590h1M595 591h1M586 592h1M578 595h1M605 595h1M567 600h1M588 604h2M588 605h1" stroke="rgb(77,77,77)" transform="translate(0 .5)"/><path d="M595 236h1M573 260h1M599 260h1M573 261h1M582 266h1M590 283h1M585 297h2M578 300h1M570 301h2M531 304h1M531 305h1M552 309h2M546 310h1M546 311h1M609 313h2M548 314h2M582 317h2M593 317h1M550 319h1M562 323h1M545 329h1M588 329h2M558 333h3M559 334h2M565 335h1M593 346h5M595 347h1M591 356h2M610 356h1M565 361h1M529 363h4M563 363h1M529 364h1M604 367h1M604 368h1M560 372h1M560 373h1M601 374h3M596 380h1M517 381h3M560 381h2M517 382h1M519 382h1M610 382h1M492 385h6M494 386h1M516 386h1M553 386h1M516 387h1M540 388h1M551 391h4M489 392h1M552 392h1M530 393h1M530 394h1M534 396h1M589 401h1M545 404h1M608 410h3M494 415h2M508 420h1M508 421h1M582 421h2M508 422h1M583 422h1M532 424h1M485 426h2M601 429h1M558 430h1M601 430h1M525 433h1M535 442h2M535 443h1M542 443h1M535 444h1M528 447h1M565 447h1M528 448h1M485 449h1M528 449h1M571 449h2M571 450h1M552 453h1M498 466h1M546 466h1M554 466h1M498 467h1M546 467h1M603 468h1M539 473h1M511 477h1M534 482h1M534 483h1M499 488h4M499 489h2M556 490h1M598 490h1M598 491h1M512 492h1M566 492h2M512 493h1M566 493h1M570 500h1M553 503h2M523 505h2M523 506h1M600 506h1M603 517h2M506 520h1M548 520h1M532 524h1M532 525h1M498 529h1M523 538h1M514 540h1M550 540h3M604 540h1M609 540h2M514 541h1M604 541h1M514 542h1M539 546h1M576 548h1M531 551h1M601 551h2M602 552h1M602 553h1M602 554h1M541 555h1M557 557h3M574 558h1M598 560h1M596 569h1M554 573h2M587 577h1M539 579h1M535 581h1M592 583h1M603 583h2M586 586h1M568 590h1M542 592h1M597 604h1" stroke="rgb(51,51,51)" transform="translate(0 .5)"/><path d="M609 210h1M609 211h1M599 212h1M609 213h1M594 215h2M594 216h1M594 217h1M598 217h1M606 217h2M595 218h2M594 219h3M590 220h2M591 221h1M594 226h1M608 228h1M608 229h1M601 230h1M588 231h1M601 231h1M597 233h3M598 234h1M573 235h2M593 235h2M568 236h1M573 236h1M607 236h1M569 237h3M563 238h1M566 238h2M590 238h4M570 239h1M592 239h1M570 240h1M585 240h2M570 241h1M562 242h1M568 243h1M585 244h2M594 244h1M560 245h3M559 246h2M551 249h1M565 250h2M565 251h1M556 252h2M564 252h2M544 257h1M556 258h4M558 259h1M553 261h1M557 261h1M541 262h1M545 262h1M557 262h1M545 263h1M541 264h1M543 265h1M553 266h1M537 267h2M553 270h2M553 271h1M559 272h2M541 273h1M544 273h1M544 274h1M548 275h3M530 276h1M532 276h1M550 276h1M541 277h2M542 278h1M541 279h2M524 281h1M549 281h1M543 282h1M543 283h1M547 283h1M527 284h2M536 284h1M537 285h1M538 286h3M540 287h1M545 287h1M539 288h2M545 288h1M528 289h1M530 289h1M535 289h2M536 290h2M521 291h1M537 291h1M528 297h2M523 299h2M534 301h1M509 305h1M511 305h1M510 310h1M525 313h1M508 314h1M522 314h1M507 315h3M505 316h1M509 317h1M502 318h1M501 319h1M508 319h2M517 319h1M508 320h1M501 323h1M510 323h3M521 323h1M495 329h1M519 330h2M519 331h1M506 333h2M515 335h1M498 336h2M519 336h2M498 337h1M503 337h1M508 337h2M510 339h1M500 345h1M499 346h2M495 348h2M486 350h1M494 350h1M496 350h3M487 353h1M500 354h1M505 354h1M500 355h3M501 356h1M484 357h1M484 358h1M492 362h2M484 364h1M490 365h1M493 367h1M495 367h3M493 368h1M495 368h2M487 369h2M494 369h1M479 370h2M480 371h1M488 371h1M480 372h1M489 372h1M488 375h2M489 376h1M480 378h2M503 378h1M485 379h1M490 379h1M503 379h1M485 380h1M488 380h1M491 380h3M492 381h1M486 382h1M487 383h1M483 385h1M475 387h1M478 389h1M493 393h2M476 394h2M494 394h1M476 395h1M478 395h1M481 397h5M476 401h1M484 401h1M492 403h2M485 404h1M480 406h1M483 410h1M478 411h1M483 411h1M478 412h1M482 412h2M478 413h1M482 413h1M478 414h1M479 416h1M487 416h1M474 417h1M479 417h1M478 418h2M486 418h1M481 420h2M471 422h2M481 422h1M472 423h1M471 429h2M483 430h1M483 431h1M469 435h1M472 437h1M483 437h1M473 439h3M478 440h1M478 441h1M489 441h2M489 442h1M485 443h1M488 443h1M488 444h1M475 445h1M481 446h1M481 447h1M485 447h1M480 450h1M470 451h1M479 451h1M483 451h1M477 452h1M479 452h2M483 452h1M469 453h1M474 454h3M490 454h1M474 455h1M484 458h1M474 460h1M474 461h1M474 462h1M470 463h1M474 463h1M471 464h1M474 464h1M483 464h1M470 465h2M474 465h1M477 465h2M484 465h3M486 466h1M481 469h2M470 470h2M476 474h1M476 475h1M474 476h1M476 476h1M479 476h2M474 477h1M478 477h3M485 477h3M478 478h1M485 478h1M471 483h1M473 483h1M478 483h2M482 483h1M473 484h1M486 485h2M480 488h2M488 488h1M500 491h1M476 494h1M479 496h1M484 496h2M485 498h1M491 499h1M475 500h6M491 500h1M475 501h1M486 501h2M495 503h1M497 503h1M475 505h2M488 505h1M481 506h1M487 506h1M492 507h1M492 508h1M499 508h1M486 511h3M478 512h1M480 512h3M482 513h1M496 513h1M482 514h1M499 514h1M501 514h1M499 515h1M478 516h1M482 516h2M487 516h5M490 517h2M491 518h1M491 519h1M491 520h1M491 521h1M507 521h1M481 522h1M489 524h1M489 525h1M485 533h2M491 533h3M505 533h2M492 534h2M505 534h2M488 536h1M492 537h1M494 537h2M504 539h1M491 540h1M490 541h3M491 542h2M498 544h1M521 546h1M494 547h1M496 548h1M492 550h2M520 550h1M495 551h1M495 552h1M505 552h2M513 552h1M495 553h1M495 554h1M505 554h1M505 555h1M505 556h3M501 557h2M505 557h2M505 558h1M514 558h2M519 558h2M505 559h1M512 559h1M514 559h1M519 559h2M512 560h1M521 560h1M506 561h1M517 562h1M527 562h2M501 564h1M530 564h4M521 565h1M524 566h1M504 569h1M510 569h2M515 569h2M510 570h1M515 570h2M505 571h1M510 571h1M514 572h1M514 573h1M516 573h1M512 574h1M516 574h1M513 575h1M536 575h1M508 576h1M508 577h1M531 578h2M508 579h2M509 580h1M514 580h1M546 581h1M522 583h2M512 584h1M508 586h1M532 586h1M511 587h1M537 587h3M516 588h1M517 589h8M519 590h2M528 590h1M539 590h1M548 590h2M520 591h1M528 591h1M536 591h2M539 591h1M549 591h3M518 592h1M528 592h1M519 593h2M528 593h1M548 594h1M518 595h1M532 595h1M539 595h1M555 595h2M518 596h1M518 597h1M551 597h1M518 598h1M538 598h1M546 598h1M518 599h1M529 600h1M542 600h1M526 601h2M539 601h1M521 602h4M536 602h1M556 602h5M556 603h1M560 603h1M544 604h1M549 604h1M550 605h1M523 606h2M546 607h1M561 607h1M546 608h1M548 608h3M561 608h1M550 609h5M561 609h1M555 610h1M557 610h1M559 610h1" stroke="rgb(25,25,25)" transform="translate(0 .5)"/></g>
<rect x="615.5" y="68.5" width="21" height="543" fill="url(#cb)" stroke="#1e90ff" stroke-width="1"/>
<path d="M107.5 69v4M152.5 69v4M197.5 69v11M243.5 69v4M288.5 69v4M333.5 69v4M379.5 69v4M424.5 69v11M470.5 69v4M515.5 69v4M560.5 69v4M606.5 69v4M84.5 611v-11M197.5 611v-11M311.5 611v-11M424.5 611v-11M538.5 611v-11M141.5 611v-4M254.5 611v-4M368.5 611v-4M481.5 611v-4M595.5 611v-4M69 72.5h11M69 163.5h11M69 254.5h11M69 344.5h11M69 435.5h11M69 526.5h11M69 118.5h4M69 208.5h4M69 299.5h4M69 390.5h4M69 481.5h4M69 571.5h4M75.5 69v4M69 606.5h4M616 592.5h3M636 592.5h-3M616 573.5h3M636 573.5h-3M616 554.5h3M636 554.5h-3M616 535.5h3M636 535.5h-3M616 516.5h5M636 516.5h-5M616 497.5h3M636 497.5h-3M616 478.5h3M636 478.5h-3M616 459.5h3M636 459.5h-3M616 440.5h3M636 440.5h-3M616 420.5h5M636 420.5h-5M616 401.5h3M636 401.5h-3M616 382.5h3M636 382.5h-3M616 363.5h3M636 363.5h-3M616 344.5h3M636 344.5h-3M616 325.5h5M636 325.5h-5M616 306.5h3M636 306.5h-3M616 287.5h3M636 287.5h-3M616 268.5h3M636 268.5h-3M616 248.5h3M636 248.5h-3M616 229.5h5M636 229.5h-5M616 210.5h3M636 210.5h-3M616 191.5h3M636 191.5h-3M616 172.5h3M636 172.5h-3M616 153.5h3M636 153.5h-3M616 134.5h5M636 134.5h-5M616 115.5h3M636 115.5h-3M616 96.5h3M636 96.5h-3M616 77.5h3M636 77.5h-3" stroke="#1e90ff" stroke-width="1" fill="none"/>
<path d="M237.50 248.40L275.51 241.70L315.73 469.78L277.72 476.48ZM244.20 286.41L282.22 279.71M250.91 324.43L288.92 317.72M257.61 362.44L295.62 355.74M264.31 400.45L302.32 393.75M271.01 438.47L309.03 431.77M298.20 308.40L374.23 294.99L387.63 371.02L311.61 384.43ZM336.21 301.70L349.62 377.72M304.90 346.41L380.93 333.01" fill="none" stroke="#0000ff" stroke-width="1"/><ellipse cx="340" cy="338.5" rx="2.3" ry="4.8" transform="rotate(-12 340 338.5)" fill="none" stroke="#0000ff" stroke-width="1.2"/><path d="M334.5 332.5L347.5 345.5M334.5 345.5L347.5 332.5" stroke="#ff0000" stroke-width="1" fill="none"/><rect x="340" y="338" width="2" height="2" fill="#ff0000"/>
<text x="18.20" y="35.00" font-size="16.3" fill="#1e90ff" textLength="50.20" lengthAdjust="spacing" stroke="#1e90ff" stroke-width="0.25">Name</text>
<text x="77.00" y="35.00" font-size="16.3" fill="#1e90ff" textLength="34.00" lengthAdjust="spacing" stroke="#1e90ff" stroke-width="0.25">HEP</text>
<text x="120.00" y="35.00" font-size="16.3" fill="#1e90ff" textLength="156.00" lengthAdjust="spacing" stroke="#1e90ff" stroke-width="0.25">G355.212-00.921,</text>
<text x="284.20" y="35.00" font-size="16.3" fill="#1e90ff" textLength="30.80" lengthAdjust="spacing" stroke="#1e90ff" stroke-width="0.25">Seq</text>
<text x="323.00" y="35.00" font-size="16.3" fill="#1e90ff" stroke="#1e90ff" stroke-width="0.25">#</text>
<text x="343.00" y="35.00" font-size="16.3" fill="#1e90ff" textLength="67.20" lengthAdjust="spacing" stroke="#1e90ff" stroke-width="0.25">201897,</text>
<text x="420.00" y="35.00" font-size="16.3" fill="#1e90ff" textLength="46.00" lengthAdjust="spacing" stroke="#1e90ff" stroke-width="0.25">Obsid</text>
<text x="476.00" y="35.00" font-size="16.3" fill="#1e90ff" textLength="52.00" lengthAdjust="spacing" stroke="#1e90ff" stroke-width="0.25">31927,</text>
<text x="540.00" y="35.00" font-size="16.3" fill="#1e90ff" textLength="20.40" lengthAdjust="spacing" stroke="#1e90ff" stroke-width="0.25">ST</text>
<text x="570.00" y="35.00" font-size="16.3" fill="#1e90ff" textLength="91.00" lengthAdjust="spacing" stroke="#1e90ff" stroke-width="0.25">Scheduled</text>
<text x="96.00" y="95.00" font-size="15" fill="#0000ff" textLength="19.80" lengthAdjust="spacingAndGlyphs" stroke="#0000ff" stroke-width="0.3">RA</text>
<text x="125.60" y="94.00" font-size="13.5" fill="#0000ff" textLength="13.20" lengthAdjust="spacingAndGlyphs">=</text>
<text x="147.20" y="95.00" font-size="15" fill="#0000ff" textLength="98.80" lengthAdjust="spacingAndGlyphs" stroke="#0000ff" stroke-width="0.3">264.360382</text>
<text x="276.40" y="95.00" font-size="15" fill="#0000ff" textLength="34.40" lengthAdjust="spacingAndGlyphs" stroke="#0000ff" stroke-width="0.3">DEC</text>
<text x="318.00" y="94.00" font-size="13.5" fill="#0000ff" textLength="13.00" lengthAdjust="spacingAndGlyphs">=</text>
<text x="341.00" y="95.00" font-size="15" fill="#0000ff" textLength="100.40" lengthAdjust="spacingAndGlyphs" stroke="#0000ff" stroke-width="0.3">−33.487766</text>
<text x="458.00" y="95.00" font-size="15" fill="#0000ff" textLength="41.00" lengthAdjust="spacingAndGlyphs" stroke="#0000ff" stroke-width="0.3">ROLL</text>
<text x="509.00" y="94.00" font-size="13.5" fill="#0000ff" textLength="11.60" lengthAdjust="spacingAndGlyphs">=</text>
<text x="529.80" y="95.00" font-size="15" fill="#0000ff" textLength="78.00" lengthAdjust="spacingAndGlyphs" stroke="#0000ff" stroke-width="0.3">259.9790</text>
<text x="97.00" y="122.00" font-size="15" fill="#0000ff" textLength="42.00" lengthAdjust="spacingAndGlyphs" stroke="#0000ff" stroke-width="0.3">YOFF</text>
<text x="146.20" y="121.00" font-size="13.5" fill="#0000ff" textLength="14.00" lengthAdjust="spacingAndGlyphs">=</text>
<text x="185.20" y="122.00" font-size="15" fill="#0000ff" textLength="48.80" lengthAdjust="spacingAndGlyphs" stroke="#0000ff" stroke-width="0.3">0.000′</text>
<text x="276.40" y="122.00" font-size="15" fill="#0000ff" textLength="42.60" lengthAdjust="spacingAndGlyphs" stroke="#0000ff" stroke-width="0.3">ZOFF</text>
<text x="326.80" y="121.00" font-size="13.5" fill="#0000ff" textLength="15.20" lengthAdjust="spacingAndGlyphs">=</text>
<text x="358.40" y="122.00" font-size="15" fill="#0000ff" textLength="58.80" lengthAdjust="spacingAndGlyphs" stroke="#0000ff" stroke-width="0.3">0.0000′</text>
<text x="459.00" y="122.00" font-size="15" fill="#0000ff" textLength="37.60" lengthAdjust="spacingAndGlyphs" stroke="#0000ff" stroke-width="0.3">ZSIM</text>
<text x="504.00" y="121.00" font-size="13.5" fill="#0000ff" textLength="16.40" lengthAdjust="spacingAndGlyphs">=</text>
<text x="528.40" y="122.00" font-size="15" fill="#0000ff" stroke="#0000ff" stroke-width="0.3">0</text>
<text x="547.00" y="122.00" font-size="15" fill="#0000ff" textLength="32.60" lengthAdjust="spacingAndGlyphs" stroke="#0000ff" stroke-width="0.3">mm</text>
<text x="95.60" y="149.00" font-size="15" fill="#0000ff" textLength="37.40" lengthAdjust="spacingAndGlyphs" stroke="#0000ff" stroke-width="0.3">ACIS</text>
<text x="140.00" y="149.00" font-size="15" fill="#0000ff" textLength="25.60" lengthAdjust="spacingAndGlyphs" stroke="#0000ff" stroke-width="0.3">PB</text>
<text x="173.20" y="148.00" font-size="13.5" fill="#0000ff" textLength="13.80" lengthAdjust="spacingAndGlyphs">=</text>
<text x="194.40" y="149.00" font-size="15" fill="#0000ff" textLength="105.40" lengthAdjust="spacingAndGlyphs" stroke="#0000ff" stroke-width="0.3">WT006E7034</text>
<text x="184.00" y="62.00" font-size="15.2" fill="#1e90ff" textLength="27.00" lengthAdjust="spacingAndGlyphs" stroke="#1e90ff" stroke-width="0.2">265</text>
<text x="411.20" y="62.00" font-size="15.2" fill="#1e90ff" textLength="27.40" lengthAdjust="spacingAndGlyphs" stroke="#1e90ff" stroke-width="0.2">264</text>
<text x="55.80" y="634.00" font-size="15" fill="#1e90ff" textLength="58.40" lengthAdjust="spacingAndGlyphs" stroke="#1e90ff" stroke-width="0.25">17h42m</text>
<text x="168.80" y="634.00" font-size="15" fill="#1e90ff" textLength="58.40" lengthAdjust="spacingAndGlyphs" stroke="#1e90ff" stroke-width="0.25">17h40m</text>
<text x="282.80" y="634.00" font-size="15" fill="#1e90ff" textLength="58.40" lengthAdjust="spacingAndGlyphs" stroke="#1e90ff" stroke-width="0.25">17h38m</text>
<text x="395.80" y="634.00" font-size="15" fill="#1e90ff" textLength="58.40" lengthAdjust="spacingAndGlyphs" stroke="#1e90ff" stroke-width="0.25">17h36m</text>
<text x="509.80" y="634.00" font-size="15" fill="#1e90ff" textLength="58.40" lengthAdjust="spacingAndGlyphs" stroke="#1e90ff" stroke-width="0.25">17h34m</text>
<text x="292.80" y="666.00" font-size="15" fill="#1e90ff" textLength="95.00" lengthAdjust="spacingAndGlyphs">RA (J2000)</text>
<text x="541.00" y="673.00" font-size="11" fill="#ffffff" style="font-family:'Liberation Sans', 'DejaVu Sans', sans-serif" textLength="134.80" lengthAdjust="spacingAndGlyphs">tdowd 20-Oct-2025 20:51</text>
<text transform="translate(62.00 100.40) rotate(-90) scale(0.8 1)" x="0" y="0" font-size="15" fill="#1e90ff" textLength="71.00" lengthAdjust="spacing">−32 30′</text>
<text transform="translate(62.00 191.40) rotate(-90) scale(0.8 1)" x="0" y="0" font-size="15" fill="#1e90ff" textLength="71.00" lengthAdjust="spacing">−32 50′</text>
<text transform="translate(62.00 282.40) rotate(-90) scale(0.8 1)" x="0" y="0" font-size="15" fill="#1e90ff" textLength="71.00" lengthAdjust="spacing">−33 10′</text>
<text transform="translate(62.00 372.40) rotate(-90) scale(0.8 1)" x="0" y="0" font-size="15" fill="#1e90ff" textLength="71.00" lengthAdjust="spacing">−33 30′</text>
<text transform="translate(62.00 463.40) rotate(-90) scale(0.8 1)" x="0" y="0" font-size="15" fill="#1e90ff" textLength="71.00" lengthAdjust="spacing">−33 50′</text>
<text transform="translate(62.00 554.40) rotate(-90) scale(0.8 1)" x="0" y="0" font-size="15" fill="#1e90ff" textLength="71.00" lengthAdjust="spacing">−34 10′</text>
<text transform="translate(32.00 391.20) rotate(-90) scale(0.87 1)" x="0" y="0" font-size="16" fill="#1e90ff" textLength="117.70" lengthAdjust="spacing">Dec (J2000)</text>
<text transform="translate(648.00 144.40) rotate(-90)" x="0" y="0" font-size="9" fill="#1e90ff" textLength="20.20" lengthAdjust="spacingAndGlyphs" stroke="#1e90ff" stroke-width="0.3">0.05</text>
<text transform="translate(648.00 240.20) rotate(-90)" x="0" y="0" font-size="9" fill="#1e90ff" textLength="20.20" lengthAdjust="spacingAndGlyphs" stroke="#1e90ff" stroke-width="0.3">0.04</text>
<text transform="translate(648.00 335.00) rotate(-90)" x="0" y="0" font-size="9" fill="#1e90ff" textLength="20.20" lengthAdjust="spacingAndGlyphs" stroke="#1e90ff" stroke-width="0.3">0.03</text>
<text transform="translate(648.00 430.60) rotate(-90)" x="0" y="0" font-size="9" fill="#1e90ff" textLength="20.20" lengthAdjust="spacingAndGlyphs" stroke="#1e90ff" stroke-width="0.3">0.02</text>
<text transform="translate(648.00 526.00) rotate(-90)" x="0" y="0" font-size="9" fill="#1e90ff" textLength="21.20" lengthAdjust="spacingAndGlyphs" stroke="#1e90ff" stroke-width="0.3">0.01</text>
<text transform="translate(648.00 614.00) rotate(-90)" x="0" y="0" font-size="9" fill="#1e90ff" stroke="#1e90ff" stroke-width="0.3">0</text>
<text transform="translate(659.00 154.60) rotate(-90)" x="0" y="0" font-size="11" fill="#1e90ff" textLength="86.00" lengthAdjust="spacing" stroke="#1e90ff" stroke-width="0.2">PSPC cts/s/pixel</text>
<text x="255.00" y="262.00" font-size="11" fill="#0000ff" font-weight="bold">5</text>
<text x="261.50" y="300.00" font-size="11" fill="#0000ff" font-weight="bold">4</text>
<text x="268.40" y="336.20" font-size="11" fill="#0000ff" font-weight="bold">3</text>
<text x="274.70" y="376.20" font-size="11" fill="#0000ff" font-weight="bold">2</text>
<text x="282.10" y="413.60" font-size="11" fill="#0000ff" font-weight="bold">1</text>
<text x="289.30" y="452.20" font-size="11" fill="#0000ff" font-weight="bold">0</text>
<text x="315.00" y="323.60" font-size="15" fill="#ff0a80">3</text>
<text x="350.00" y="317.00" font-size="15" fill="#ff0a80">1</text>
<text x="321.80" y="358.80" font-size="15" fill="#ff0a80">2</text>
<text x="357.00" y="353.40" font-size="15" fill="#ff0a80">0</text>
</svg></body></html>
